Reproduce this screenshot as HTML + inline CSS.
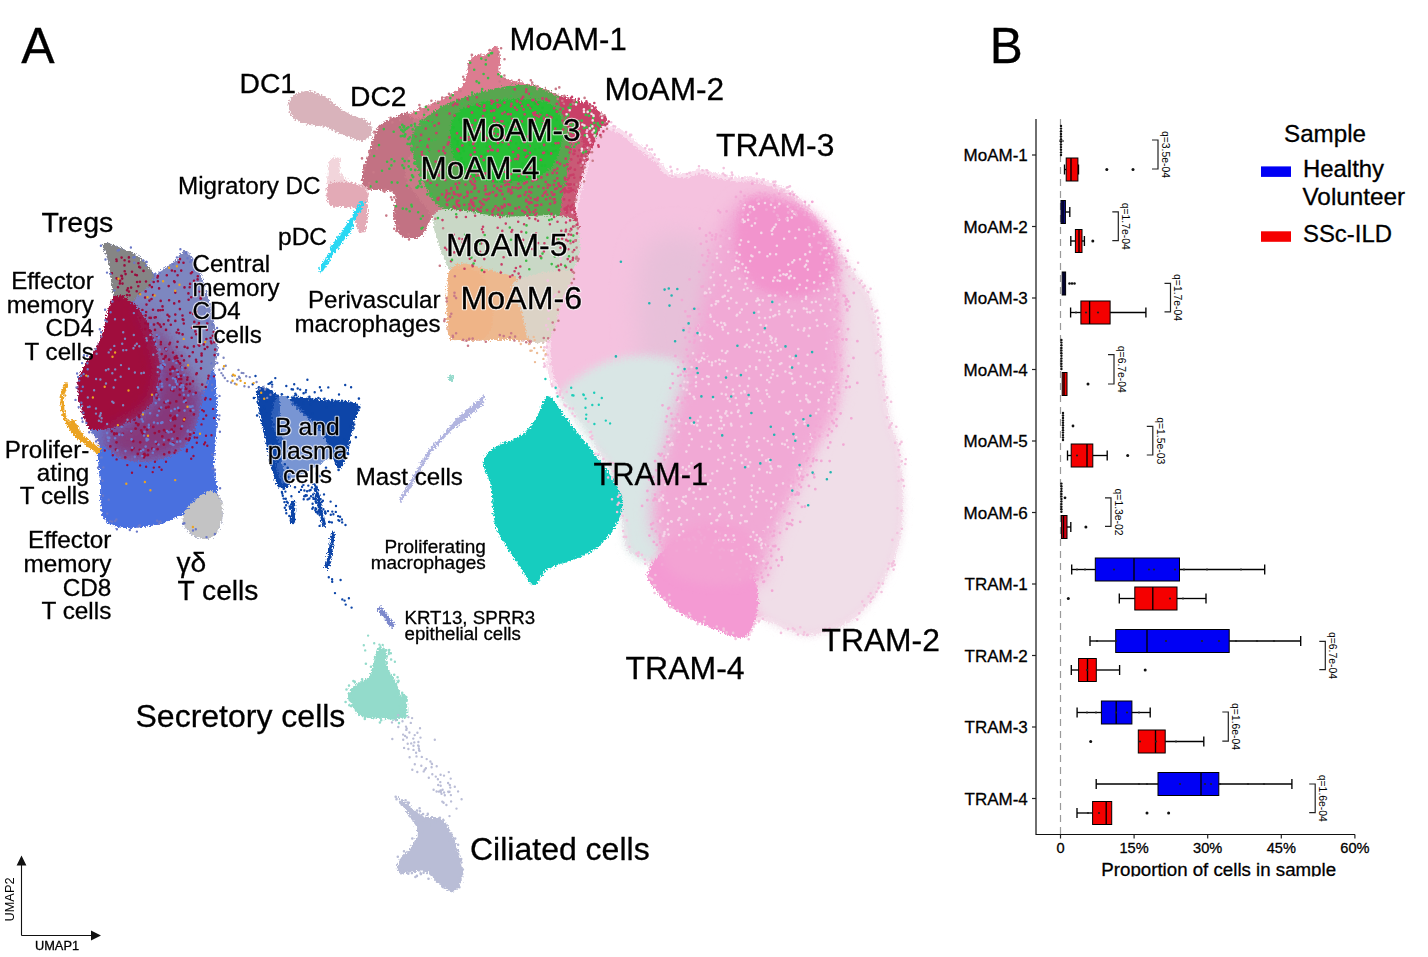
<!DOCTYPE html><html><head><meta charset="utf-8"><style>html,body{margin:0;padding:0;background:#fff;overflow:hidden}svg{display:block}</style></head><body>
<svg width="1428" height="957" viewBox="0 0 1428 957">
<rect width="1428" height="957" fill="#fff"/>
<defs><filter id="soft" x="-10%" y="-10%" width="120%" height="120%"><feGaussianBlur stdDeviation="1.2"/></filter><filter id="b4" x="-30%" y="-30%" width="160%" height="160%"><feGaussianBlur stdDeviation="4"/></filter><filter id="b8" x="-30%" y="-30%" width="160%" height="160%"><feGaussianBlur stdDeviation="8"/></filter><filter id="b12" x="-30%" y="-30%" width="160%" height="160%"><feGaussianBlur stdDeviation="12"/></filter><filter id="soft2" x="-10%" y="-10%" width="120%" height="120%"><feGaussianBlur stdDeviation="3"/></filter><filter id="grain" x="-5%" y="-5%" width="110%" height="110%"><feTurbulence type="fractalNoise" baseFrequency="0.6" numOctaves="1" seed="3" result="n"/><feDisplacementMap in="SourceGraphic" in2="n" scale="7" xChannelSelector="R" yChannelSelector="G"/></filter></defs>
<g filter="url(#grain)">
<path d="M590.0,122.0 C592.3,120.2 596.7,122.7 602.0,124.0 C607.3,125.3 615.8,126.7 622.0,130.0 C628.2,133.3 633.0,139.2 639.0,144.0 C645.0,148.8 652.8,154.3 658.0,159.0 C663.2,163.7 665.2,169.7 670.0,172.0 C674.8,174.3 682.0,173.5 687.0,173.0 C692.0,172.5 695.2,169.0 700.0,169.0 C704.8,169.0 709.8,171.7 716.0,173.0 C722.2,174.3 730.0,176.2 737.0,177.0 C744.0,177.8 748.8,175.5 758.0,178.0 C767.2,180.5 783.0,186.3 792.0,192.0 C801.0,197.7 805.7,204.3 812.0,212.0 C818.3,219.7 823.7,228.7 830.0,238.0 C836.3,247.3 843.5,258.3 850.0,268.0 C856.5,277.7 864.3,285.7 869.0,296.0 C873.7,306.3 875.8,318.5 878.0,330.0 C880.2,341.5 880.0,349.8 882.0,365.0 C884.0,380.2 887.0,406.0 890.0,421.0 C893.0,436.0 898.0,437.7 900.0,455.0 C902.0,472.3 904.3,504.7 902.0,525.0 C899.7,545.3 893.7,561.7 886.0,577.0 C878.3,592.3 868.0,607.3 856.0,617.0 C844.0,626.7 825.3,632.8 814.0,635.0 C802.7,637.2 795.3,632.2 788.0,630.0 C780.7,627.8 775.0,623.3 770.0,622.0 C765.0,620.7 762.2,619.5 758.0,622.0 C753.8,624.5 752.7,636.0 745.0,637.0 C737.3,638.0 723.8,632.7 712.0,628.0 C700.2,623.3 684.0,616.8 674.0,609.0 C664.0,601.2 656.7,588.8 652.0,581.0 C647.3,573.2 650.2,567.3 646.0,562.0 C641.8,556.7 631.0,555.8 627.0,549.0 C623.0,542.2 624.8,534.2 622.0,521.0 C619.2,507.8 614.2,481.8 610.0,470.0 C605.8,458.2 600.3,456.3 597.0,450.0 C593.7,443.7 594.2,438.7 590.0,432.0 C585.8,425.3 577.8,417.0 572.0,410.0 C566.2,403.0 559.2,397.5 555.0,390.0 C550.8,382.5 548.3,376.7 547.0,365.0 C545.7,353.3 546.2,334.2 547.0,320.0 C547.8,305.8 549.5,293.3 552.0,280.0 C554.5,266.7 558.2,253.3 562.0,240.0 C565.8,226.7 571.2,213.3 575.0,200.0 C578.8,186.7 582.8,170.8 585.0,160.0 C587.2,149.2 587.2,141.3 588.0,135.0 C588.8,128.7 587.7,123.8 590.0,122.0Z" fill="#f5c2df" />
<path d="M590.0,122.0 C592.3,120.2 596.7,122.7 602.0,124.0 C607.3,125.3 615.8,126.7 622.0,130.0 C628.2,133.3 633.0,139.2 639.0,144.0 C645.0,148.8 652.8,154.3 658.0,159.0 C663.2,163.7 665.2,169.7 670.0,172.0 C674.8,174.3 682.0,173.5 687.0,173.0 C692.0,172.5 695.2,169.0 700.0,169.0 C704.8,169.0 709.8,171.7 716.0,173.0 C722.2,174.3 730.0,176.2 737.0,177.0 C744.0,177.8 748.8,175.5 758.0,178.0 C767.2,180.5 783.0,186.3 792.0,192.0 C801.0,197.7 805.7,204.3 812.0,212.0 C818.3,219.7 823.7,228.7 830.0,238.0 C836.3,247.3 843.5,258.3 850.0,268.0 C856.5,277.7 864.3,285.7 869.0,296.0 C873.7,306.3 875.8,318.5 878.0,330.0 C880.2,341.5 880.0,349.8 882.0,365.0 C884.0,380.2 887.0,406.0 890.0,421.0 C893.0,436.0 898.0,437.7 900.0,455.0 C902.0,472.3 904.3,504.7 902.0,525.0 C899.7,545.3 893.7,561.7 886.0,577.0 C878.3,592.3 868.0,607.3 856.0,617.0 C844.0,626.7 825.3,632.8 814.0,635.0 C802.7,637.2 795.3,632.2 788.0,630.0 C780.7,627.8 775.0,623.3 770.0,622.0 C765.0,620.7 762.2,619.5 758.0,622.0 C753.8,624.5 752.7,636.0 745.0,637.0 C737.3,638.0 723.8,632.7 712.0,628.0 C700.2,623.3 684.0,616.8 674.0,609.0 C664.0,601.2 656.7,588.8 652.0,581.0 C647.3,573.2 650.2,567.3 646.0,562.0 C641.8,556.7 631.0,555.8 627.0,549.0 C623.0,542.2 624.8,534.2 622.0,521.0 C619.2,507.8 614.2,481.8 610.0,470.0 C605.8,458.2 600.3,456.3 597.0,450.0 C593.7,443.7 594.2,438.7 590.0,432.0 C585.8,425.3 577.8,417.0 572.0,410.0 C566.2,403.0 559.2,397.5 555.0,390.0 C550.8,382.5 548.3,376.7 547.0,365.0 C545.7,353.3 546.2,334.2 547.0,320.0 C547.8,305.8 549.5,293.3 552.0,280.0 C554.5,266.7 558.2,253.3 562.0,240.0 C565.8,226.7 571.2,213.3 575.0,200.0 C578.8,186.7 582.8,170.8 585.0,160.0 C587.2,149.2 587.2,141.3 588.0,135.0 C588.8,128.7 587.7,123.8 590.0,122.0Z" fill="none" stroke="#fff" stroke-opacity="0.45" stroke-width="9"/>
<path d="M812.0,212.0 C811.7,210.0 823.7,228.7 830.0,238.0 C836.3,247.3 843.5,258.3 850.0,268.0 C856.5,277.7 864.3,285.7 869.0,296.0 C873.7,306.3 875.8,318.5 878.0,330.0 C880.2,341.5 880.0,349.8 882.0,365.0 C884.0,380.2 887.0,406.0 890.0,421.0 C893.0,436.0 898.0,437.7 900.0,455.0 C902.0,472.3 904.3,504.7 902.0,525.0 C899.7,545.3 893.7,561.7 886.0,577.0 C878.3,592.3 868.0,607.3 856.0,617.0 C844.0,626.7 825.3,632.8 814.0,635.0 C802.7,637.2 795.3,632.2 788.0,630.0 C780.7,627.8 775.0,625.3 770.0,622.0 C765.0,618.7 760.5,616.2 758.0,610.0 C755.5,603.8 754.0,596.7 755.0,585.0 C756.0,573.3 758.2,555.0 764.0,540.0 C769.8,525.0 781.5,510.0 790.0,495.0 C798.5,480.0 807.0,465.8 815.0,450.0 C823.0,434.2 833.8,425.0 838.0,400.0 C842.2,375.0 841.0,325.0 840.0,300.0 C839.0,275.0 836.7,264.7 832.0,250.0 C827.3,235.3 812.3,214.0 812.0,212.0Z" fill="#f0dee8" filter="url(#b4)"/>
<path d="M645.0,250.0 C655.0,230.0 685.8,233.3 700.0,240.0 C714.2,246.7 727.5,266.7 730.0,290.0 C732.5,313.3 720.0,353.3 715.0,380.0 C710.0,406.7 709.2,440.0 700.0,450.0 C690.8,460.0 670.0,455.0 660.0,440.0 C650.0,425.0 642.5,391.7 640.0,360.0 C637.5,328.3 635.0,270.0 645.0,250.0Z" fill="#e7c0d9" filter="url(#b12)"/>
<path d="M560.0,395.0 C561.3,388.5 571.3,381.8 580.0,376.0 C588.7,370.2 600.0,363.3 612.0,360.0 C624.0,356.7 639.3,354.7 652.0,356.0 C664.7,357.3 682.7,359.0 688.0,368.0 C693.3,377.0 687.0,394.7 684.0,410.0 C681.0,425.3 674.3,443.3 670.0,460.0 C665.7,476.7 659.3,495.3 658.0,510.0 C656.7,524.7 664.0,539.3 662.0,548.0 C660.0,556.7 651.8,561.8 646.0,562.0 C640.2,562.2 631.0,555.8 627.0,549.0 C623.0,542.2 624.8,534.2 622.0,521.0 C619.2,507.8 614.2,481.8 610.0,470.0 C605.8,458.2 603.3,459.2 597.0,450.0 C590.7,440.8 578.2,424.2 572.0,415.0 C565.8,405.8 558.7,401.5 560.0,395.0Z" fill="#d9e6e5" filter="url(#b4)"/>
<path d="M746.0,199.0 C757.7,194.8 777.3,199.8 790.0,205.0 C802.7,210.2 814.0,219.2 822.0,230.0 C830.0,240.8 835.0,253.3 838.0,270.0 C841.0,286.7 840.3,308.3 840.0,330.0 C839.7,351.7 840.7,379.8 836.0,400.0 C831.3,420.2 819.7,434.3 812.0,451.0 C804.3,467.7 796.7,484.3 790.0,500.0 C783.3,515.7 777.0,530.8 772.0,545.0 C767.0,559.2 765.3,582.5 760.0,585.0 C754.7,587.5 749.2,568.8 740.0,560.0 C730.8,551.2 717.7,534.5 705.0,532.0 C692.3,529.5 672.8,547.8 664.0,545.0 C655.2,542.2 652.7,527.5 652.0,515.0 C651.3,502.5 656.7,485.8 660.0,470.0 C663.3,454.2 667.0,438.3 672.0,420.0 C677.0,401.7 685.0,380.0 690.0,360.0 C695.0,340.0 697.0,321.7 702.0,300.0 C707.0,278.3 712.7,246.8 720.0,230.0 C727.3,213.2 734.3,203.2 746.0,199.0Z" fill="#f1a9d5" filter="url(#b8)"/>
<path d="M748.0,202.0 C756.7,194.2 779.7,203.0 792.0,208.0 C804.3,213.0 815.2,221.7 822.0,232.0 C828.8,242.3 835.8,260.3 833.0,270.0 C830.2,279.7 816.3,287.5 805.0,290.0 C793.7,292.5 775.8,290.8 765.0,285.0 C754.2,279.2 742.8,268.8 740.0,255.0 C737.2,241.2 739.3,209.8 748.0,202.0Z" fill="#f3a0d2" filter="url(#b4)"/>
<path d="M648.0,572.0 C650.0,566.2 656.2,557.0 664.0,550.0 C671.8,543.0 683.2,533.0 695.0,530.0 C706.8,527.0 725.5,525.3 735.0,532.0 C744.5,538.7 748.2,557.8 752.0,570.0 C755.8,582.2 759.2,593.8 758.0,605.0 C756.8,616.2 752.7,633.2 745.0,637.0 C737.3,640.8 723.8,632.7 712.0,628.0 C700.2,623.3 684.0,616.2 674.0,609.0 C664.0,601.8 656.3,591.2 652.0,585.0 C647.7,578.8 646.0,577.8 648.0,572.0Z" fill="#f49ad3" />
<path d="M662.0,545.0 C666.2,536.2 685.7,524.2 700.0,522.0 C714.3,519.8 738.8,523.2 748.0,532.0 C757.2,540.8 759.7,566.2 755.0,575.0 C750.3,583.8 733.3,585.0 720.0,585.0 C706.7,585.0 684.7,581.7 675.0,575.0 C665.3,568.3 657.8,553.8 662.0,545.0Z" fill="#f3a2d3" filter="url(#b4)"/>
<path d="M748.0,200.0 C757.8,191.7 782.0,199.7 795.0,205.0 C808.0,210.3 819.2,220.8 826.0,232.0 C832.8,243.2 839.0,261.5 836.0,272.0 C833.0,282.5 820.3,292.0 808.0,295.0 C795.7,298.0 774.0,296.7 762.0,290.0 C750.0,283.3 738.3,270.0 736.0,255.0 C733.7,240.0 738.2,208.3 748.0,200.0Z" fill="#f294cd" filter="url(#b4)"/>
<path d="M548.0,396.0 C552.8,395.2 559.2,409.0 564.0,415.0 C568.8,421.0 571.5,425.0 577.0,432.0 C582.5,439.0 591.5,449.8 597.0,457.0 C602.5,464.2 605.8,467.8 610.0,475.0 C614.2,482.2 620.8,492.0 622.0,500.0 C623.2,508.0 620.8,515.3 617.0,523.0 C613.2,530.7 605.8,540.0 599.0,546.0 C592.2,552.0 584.5,555.2 576.0,559.0 C567.5,562.8 555.0,564.7 548.0,569.0 C541.0,573.3 538.5,585.0 534.0,585.0 C529.5,585.0 527.0,577.8 521.0,569.0 C515.0,560.2 502.7,542.0 498.0,532.0 C493.3,522.0 494.2,516.7 493.0,509.0 C491.8,501.3 492.5,493.0 491.0,486.0 C489.5,479.0 484.8,472.2 484.0,467.0 C483.2,461.8 483.5,458.7 486.0,455.0 C488.5,451.3 493.3,448.2 499.0,445.0 C504.7,441.8 514.0,440.2 520.0,436.0 C526.0,431.8 530.3,426.7 535.0,420.0 C539.7,413.3 543.2,396.8 548.0,396.0Z" fill="#12cdbf" />
<path d="M382.0,123.7 C385.3,121.8 391.8,118.0 397.6,116.0 C403.4,114.0 409.9,114.7 417.0,112.0 C424.1,109.3 432.3,104.5 440.0,100.0 C447.7,95.5 457.8,92.0 463.0,85.0 C468.2,78.0 467.1,63.2 471.0,58.0 C474.9,52.8 482.3,56.0 486.5,54.0 C490.7,52.0 493.8,45.3 496.0,46.0 C498.2,46.7 499.0,52.8 500.0,58.0 C501.0,63.2 496.5,72.5 502.0,77.0 C507.5,81.5 522.7,81.7 533.0,85.0 C543.3,88.3 555.0,93.4 564.0,96.6 C573.0,99.8 580.7,101.1 587.0,104.0 C593.3,106.9 598.7,111.0 602.0,114.0 C605.3,117.0 607.6,119.2 607.0,122.0 C606.4,124.8 601.9,125.6 598.6,131.0 C595.3,136.4 589.6,147.4 587.0,154.6 C584.4,161.8 585.0,165.6 583.0,174.0 C581.0,182.4 575.7,195.3 575.0,205.0 C574.3,214.7 579.6,221.1 579.0,232.0 C578.4,242.9 574.7,259.3 571.5,270.6 C568.3,281.9 563.9,288.4 560.0,300.0 C556.1,311.6 554.7,333.3 548.0,340.0 C541.3,346.7 529.3,340.0 520.0,340.0 C510.7,340.0 501.5,340.0 492.0,340.0 C482.5,340.0 470.3,341.3 463.0,340.0 C455.7,338.7 449.9,344.0 448.0,332.4 C446.1,320.8 451.7,281.6 451.7,270.6 C451.7,259.7 450.6,275.7 448.0,266.7 C445.4,257.7 440.5,221.6 436.0,216.5 C431.5,211.4 426.8,232.8 421.0,236.0 C415.2,239.2 405.9,239.1 401.4,235.8 C396.8,232.6 395.0,223.6 393.7,216.5 C392.4,209.4 398.8,198.2 393.7,193.0 C388.6,187.8 366.7,193.2 362.8,185.5 C358.9,177.8 368.0,156.7 370.5,147.0 C373.0,137.3 376.1,131.5 378.0,127.6 C379.9,123.7 378.7,125.6 382.0,123.7Z" fill="#c97a88" />
<path d="M382.0,123.7 C385.3,121.8 392.9,117.6 397.6,116.0 C402.3,114.4 407.1,110.0 410.0,114.0 C412.9,118.0 415.8,129.8 415.0,140.0 C414.2,150.2 404.2,165.0 405.0,175.0 C405.8,185.0 415.8,193.3 420.0,200.0 C424.2,206.7 429.8,209.0 430.0,215.0 C430.2,221.0 425.8,232.5 421.0,236.0 C416.2,239.5 405.9,239.1 401.4,235.8 C396.8,232.6 395.0,223.6 393.7,216.5 C392.4,209.4 398.8,198.2 393.7,193.0 C388.6,187.8 366.7,193.2 362.8,185.5 C358.9,177.8 368.0,156.7 370.5,147.0 C373.0,137.3 376.1,131.5 378.0,127.6 C379.9,123.7 378.7,125.6 382.0,123.7Z" fill="#c27283" />
<path d="M440.0,100.0 C448.8,95.2 457.8,92.0 463.0,85.0 C468.2,78.0 467.1,63.2 471.0,58.0 C474.9,52.8 482.3,56.0 486.5,54.0 C490.7,52.0 493.8,45.3 496.0,46.0 C498.2,46.7 499.0,52.8 500.0,58.0 C501.0,63.2 496.5,72.5 502.0,77.0 C507.5,81.5 525.8,82.5 533.0,85.0 C540.2,87.5 550.5,89.5 545.0,92.0 C539.5,94.5 514.2,97.0 500.0,100.0 C485.8,103.0 473.3,107.0 460.0,110.0 C446.7,113.0 428.3,117.3 420.0,118.0 C411.7,118.7 406.7,117.0 410.0,114.0 C413.3,111.0 431.2,104.8 440.0,100.0Z" fill="#dc7c90" />
<path d="M418.0,125.0 C425.2,116.8 438.3,107.2 455.5,100.5 C472.7,93.8 502.9,85.0 521.0,85.0 C539.1,85.0 554.2,93.8 564.0,100.5 C573.8,107.2 577.5,116.0 580.0,125.0 C582.5,134.0 580.3,143.8 579.0,154.6 C577.7,165.4 574.5,179.7 572.0,190.0 C569.5,200.3 575.7,212.1 564.0,216.5 C552.3,220.9 522.0,217.8 502.0,216.5 C482.0,215.2 456.8,213.9 444.0,208.7 C431.2,203.4 430.3,194.8 425.0,185.0 C419.7,175.2 413.2,160.0 412.0,150.0 C410.8,140.0 410.8,133.2 418.0,125.0Z" fill="#58a64f" />
<path d="M460.0,110.0 C468.3,104.2 485.8,101.3 500.0,100.0 C514.2,98.7 534.7,98.3 545.0,102.0 C555.3,105.7 560.2,112.3 562.0,122.0 C563.8,131.7 561.3,150.3 556.0,160.0 C550.7,169.7 542.7,176.7 530.0,180.0 C517.3,183.3 492.0,182.5 480.0,180.0 C468.0,177.5 463.0,172.5 458.0,165.0 C453.0,157.5 449.7,144.2 450.0,135.0 C450.3,125.8 451.7,115.8 460.0,110.0Z" fill="#26bf34" />
<path d="M560.0,97.0 C563.7,94.3 580.0,101.2 587.0,104.0 C594.0,106.8 598.7,111.0 602.0,114.0 C605.3,117.0 607.6,119.2 607.0,122.0 C606.4,124.8 601.9,125.6 598.6,131.0 C595.3,136.4 590.9,151.4 587.0,154.6 C583.1,157.8 578.7,155.8 575.0,150.0 C571.3,144.2 567.5,128.8 565.0,120.0 C562.5,111.2 556.3,99.7 560.0,97.0Z" fill="#c93f68" />
<path d="M575.0,130.0 C578.2,127.4 585.7,147.3 587.0,154.6 C588.3,161.9 585.0,165.6 583.0,174.0 C581.0,182.4 575.7,195.3 575.0,205.0 C574.3,214.7 579.6,221.1 579.0,232.0 C578.4,242.9 574.7,264.3 571.5,270.6 C568.3,276.9 561.9,279.3 560.0,270.0 C558.1,260.7 558.7,231.7 560.0,215.0 C561.3,198.3 565.5,184.2 568.0,170.0 C570.5,155.8 571.8,132.6 575.0,130.0Z" fill="#c95a76" />
<path d="M436.0,212.0 C445.0,203.6 480.7,215.8 502.0,216.5 C523.3,217.2 551.2,213.9 564.0,216.5 C576.8,219.1 577.8,223.0 579.0,232.0 C580.2,241.0 581.3,262.9 571.5,270.6 C561.7,278.3 536.9,277.8 520.0,278.0 C503.1,278.2 482.0,273.9 470.0,272.0 C458.0,270.1 453.7,276.7 448.0,266.7 C442.3,256.7 427.0,220.4 436.0,212.0Z" fill="#c9d8c6" />
<path d="M451.7,268.0 C458.7,257.6 476.9,267.2 490.0,270.0 C503.1,272.8 520.3,277.5 530.0,285.0 C539.7,292.5 545.0,305.8 548.0,315.0 C551.0,324.2 552.7,335.8 548.0,340.0 C543.3,344.2 529.3,340.0 520.0,340.0 C510.7,340.0 501.5,340.0 492.0,340.0 C482.5,340.0 470.3,341.3 463.0,340.0 C455.7,338.7 449.9,344.4 448.0,332.4 C446.1,320.4 444.7,278.4 451.7,268.0Z" fill="#edb88e" />
<path d="M451.0,270.0 C456.0,267.0 471.2,267.0 478.0,272.0 C484.8,277.0 490.3,289.5 492.0,300.0 C493.7,310.5 493.2,328.3 488.0,335.0 C482.8,341.7 467.5,340.5 461.0,340.0 C454.5,339.5 451.2,340.3 449.0,332.0 C446.8,323.7 447.7,300.3 448.0,290.0 C448.3,279.7 446.0,273.0 451.0,270.0Z" fill="#efb487" />
<path d="M515.0,282.0 C523.2,275.1 563.7,267.6 571.5,270.6 C579.3,273.6 565.6,288.8 562.0,300.0 C558.4,311.2 555.3,331.3 550.0,338.0 C544.7,344.7 534.7,344.3 530.0,340.0 C525.3,335.7 524.5,321.7 522.0,312.0 C519.5,302.3 506.8,288.9 515.0,282.0Z" fill="#dcd3c6" />
<path d="M290.0,99.0 C292.7,95.0 301.2,91.3 307.0,91.0 C312.8,90.7 318.5,93.5 325.0,97.0 C331.5,100.5 339.0,108.0 346.0,112.0 C353.0,116.0 362.7,117.5 367.0,121.0 C371.3,124.5 372.8,129.7 372.0,133.0 C371.2,136.3 366.3,140.5 362.0,141.0 C357.7,141.5 352.2,138.3 346.0,136.0 C339.8,133.7 331.8,129.0 325.0,127.0 C318.2,125.0 310.7,126.0 305.0,124.0 C299.3,122.0 293.5,119.2 291.0,115.0 C288.5,110.8 287.3,103.0 290.0,99.0Z" fill="#d9b3bb" />
<path d="M330.0,160.0 C332.0,158.0 338.3,156.0 340.0,158.0 C341.7,160.0 338.3,168.0 340.0,172.0 C341.7,176.0 345.8,179.7 350.0,182.0 C354.2,184.3 361.8,183.7 365.0,186.0 C368.2,188.3 369.5,192.7 369.0,196.0 C368.5,199.3 366.0,204.2 362.0,206.0 C358.0,207.8 350.5,207.3 345.0,207.0 C339.5,206.7 332.0,206.8 329.0,204.0 C326.0,201.2 327.2,195.7 327.0,190.0 C326.8,184.3 327.5,175.0 328.0,170.0 C328.5,165.0 328.0,162.0 330.0,160.0Z" fill="#ecc3cc" opacity="0.7"/>
<path d="M328.0,185.0 C330.7,181.3 339.3,181.8 345.0,182.0 C350.7,182.2 358.2,183.7 362.0,186.0 C365.8,188.3 368.0,192.7 368.0,196.0 C368.0,199.3 365.8,204.2 362.0,206.0 C358.2,207.8 350.5,207.3 345.0,207.0 C339.5,206.7 331.8,207.7 329.0,204.0 C326.2,200.3 325.3,188.7 328.0,185.0Z" fill="#e3aab6" />
<path d="M358.0,200.0 C359.8,198.0 364.3,195.5 366.0,198.0 C367.7,200.5 368.3,209.3 368.0,215.0 C367.7,220.7 365.8,229.8 364.0,232.0 C362.2,234.2 358.5,231.7 357.0,228.0 C355.5,224.3 354.8,214.7 355.0,210.0 C355.2,205.3 356.2,202.0 358.0,200.0Z" fill="#e3aab6" />
<path d="M321,270 L340,240 L355,215 L362,203" stroke="#2ad8f3" stroke-width="4.5" stroke-linecap="round" fill="none"/>
<path d="M334,248 L350,226" stroke="#2ad8f3" stroke-width="7" stroke-linecap="round" fill="none"/>
<path d="M103.5,243.4 C106.0,241.6 117.1,246.7 123.0,249.0 C128.9,251.3 134.2,253.3 139.0,257.0 C143.8,260.7 148.8,268.3 152.0,271.0 C155.2,273.7 155.2,274.0 158.0,273.0 C160.8,272.0 165.8,267.3 169.0,265.0 C172.2,262.7 174.0,261.2 177.0,259.0 C180.0,256.8 182.5,247.9 187.0,252.0 C191.5,256.1 199.0,268.8 204.0,283.5 C209.0,298.2 215.3,325.5 217.0,340.0 C218.7,354.5 214.0,358.2 214.0,370.5 C214.0,382.8 217.0,398.4 217.0,414.0 C217.0,429.6 214.0,451.2 214.0,464.0 C214.0,476.8 215.8,485.0 217.0,491.0 C218.2,497.0 220.2,495.2 221.0,500.0 C221.8,504.8 223.3,513.8 222.0,520.0 C220.7,526.2 217.3,534.2 213.0,537.0 C208.7,539.8 200.8,538.8 196.0,537.0 C191.2,535.2 186.0,529.8 184.0,526.0 C182.0,522.2 187.8,514.3 183.8,514.0 C179.8,513.7 170.0,521.7 160.0,524.0 C150.0,526.3 133.0,528.8 123.6,527.7 C114.2,526.6 107.4,525.4 103.5,517.6 C99.6,509.8 100.6,492.8 100.0,481.0 C99.4,469.2 102.2,456.5 100.0,447.0 C97.8,437.5 90.4,432.3 86.8,424.0 C83.2,415.7 79.5,405.3 78.4,397.0 C77.3,388.7 76.4,383.5 80.0,374.0 C83.6,364.5 94.4,352.8 100.0,340.0 C105.6,327.2 112.2,310.3 113.5,297.0 C114.8,283.7 109.7,268.9 108.0,260.0 C106.3,251.1 101.0,245.2 103.5,243.4Z" fill="#6876cc" />
<path d="M103.5,243.4 C106.0,241.6 117.1,246.7 123.0,249.0 C128.9,251.3 134.2,253.3 139.0,257.0 C143.8,260.7 150.2,266.3 152.0,271.0 C153.8,275.7 152.8,280.2 150.0,285.0 C147.2,289.8 140.8,296.7 135.0,300.0 C129.2,303.3 118.6,305.5 115.0,305.0 C111.4,304.5 114.7,304.5 113.5,297.0 C112.3,289.5 109.7,268.9 108.0,260.0 C106.3,251.1 101.0,245.2 103.5,243.4Z" fill="#858585" />
<path d="M158.0,273.0 C161.2,269.7 165.8,267.3 169.0,265.0 C172.2,262.7 174.0,261.2 177.0,259.0 C180.0,256.8 182.5,247.9 187.0,252.0 C191.5,256.1 199.0,268.8 204.0,283.5 C209.0,298.2 215.3,325.5 217.0,340.0 C218.7,354.5 216.0,362.2 214.0,370.5 C212.0,378.8 210.7,387.6 205.0,390.0 C199.3,392.4 187.5,390.0 180.0,385.0 C172.5,380.0 166.7,370.8 160.0,360.0 C153.3,349.2 144.2,330.0 140.0,320.0 C135.8,310.0 133.3,305.8 135.0,300.0 C136.7,294.2 146.2,289.5 150.0,285.0 C153.8,280.5 154.8,276.3 158.0,273.0Z" fill="#7d87c0" />
<path d="M113.5,297.0 C119.3,291.2 128.9,299.5 135.0,305.0 C141.1,310.5 145.8,319.2 150.0,330.0 C154.2,340.8 160.0,357.5 160.0,370.0 C160.0,382.5 156.3,395.8 150.0,405.0 C143.7,414.2 131.0,420.8 122.0,425.0 C113.0,429.2 101.9,430.2 96.0,430.0 C90.1,429.8 89.7,429.5 86.8,424.0 C83.9,418.5 79.5,405.3 78.4,397.0 C77.3,388.7 76.4,383.5 80.0,374.0 C83.6,364.5 94.4,352.8 100.0,340.0 C105.6,327.2 107.7,302.8 113.5,297.0Z" fill="#a00c3c" />
<path d="M135.0,302.0 C136.7,302.0 151.7,318.7 160.0,330.0 C168.3,341.3 178.3,358.3 185.0,370.0 C191.7,381.7 199.2,388.3 200.0,400.0 C200.8,411.7 196.7,430.3 190.0,440.0 C183.3,449.7 170.8,455.0 160.0,458.0 C149.2,461.0 133.3,459.3 125.0,458.0 C116.7,456.7 113.5,454.0 110.0,450.0 C106.5,446.0 102.0,438.2 104.0,434.0 C106.0,429.8 114.3,429.8 122.0,425.0 C129.7,420.2 143.7,414.2 150.0,405.0 C156.3,395.8 160.0,382.5 160.0,370.0 C160.0,357.5 154.2,341.3 150.0,330.0 C145.8,318.7 133.3,302.0 135.0,302.0Z" fill="#86387a" filter="url(#b8)"/>
<path d="M100.0,447.0 C104.2,443.5 115.0,457.8 125.0,460.0 C135.0,462.2 149.2,463.3 160.0,460.0 C170.8,456.7 182.5,451.7 190.0,440.0 C197.5,428.3 201.0,401.6 205.0,390.0 C209.0,378.4 212.0,366.5 214.0,370.5 C216.0,374.5 217.0,398.4 217.0,414.0 C217.0,429.6 214.0,451.2 214.0,464.0 C214.0,476.8 218.5,484.2 217.0,491.0 C215.5,497.8 210.5,501.2 205.0,505.0 C199.5,508.8 191.3,510.8 183.8,514.0 C176.3,517.2 170.0,521.7 160.0,524.0 C150.0,526.3 133.0,528.8 123.6,527.7 C114.2,526.6 107.4,525.4 103.5,517.6 C99.6,509.8 100.6,492.8 100.0,481.0 C99.4,469.2 95.8,450.5 100.0,447.0Z" fill="#4a6fdf" />
<path d="M210.5,491.0 C214.8,491.0 219.1,495.2 221.0,500.0 C222.9,504.8 223.3,513.8 222.0,520.0 C220.7,526.2 217.3,534.2 213.0,537.0 C208.7,539.8 200.8,538.8 196.0,537.0 C191.2,535.2 186.0,529.8 184.0,526.0 C182.0,522.2 182.0,518.3 183.8,514.0 C185.6,509.7 190.6,503.8 195.0,500.0 C199.4,496.2 206.2,491.0 210.5,491.0Z" fill="#c3c3c4" />
<path d="M66,384 C57,405 62,432 98,450" stroke="#eba322" stroke-width="3.5" fill="none" stroke-linecap="round"/>
<path d="M72,422 C78,436 86,444 98,450" stroke="#eba322" stroke-width="6" fill="none" stroke-linecap="round"/>
<path d="M290.0,399.0 C290.7,393.7 313.7,399.2 325.0,400.0 C336.3,400.8 353.2,400.2 358.0,404.0 C362.8,407.8 357.0,412.2 354.0,423.0 C351.0,433.8 345.5,467.5 340.0,469.0 C334.5,470.5 329.3,443.7 321.0,432.0 C312.7,420.3 289.3,404.3 290.0,399.0Z" fill="#0c45a8" />
<path d="M258.0,388.0 C261.0,384.7 274.3,390.2 278.0,396.0 C281.7,401.8 279.0,415.2 280.0,423.0 C281.0,430.8 283.7,436.3 284.0,443.0 C284.3,449.7 281.0,456.2 282.0,463.0 C283.0,469.8 290.5,480.0 290.0,484.0 C289.5,488.0 282.0,489.3 279.0,487.0 C276.0,484.7 274.2,477.3 272.0,470.0 C269.8,462.7 268.0,452.0 266.0,443.0 C264.0,434.0 261.3,425.2 260.0,416.0 C258.7,406.8 255.0,391.3 258.0,388.0Z" fill="#0c45a8" />
<path d="M276.0,398.0 C279.0,394.0 282.5,393.3 290.0,399.0 C297.5,404.7 314.3,422.7 321.0,432.0 C327.7,441.3 331.8,448.7 330.0,455.0 C328.2,461.3 316.7,465.8 310.0,470.0 C303.3,474.2 294.5,477.7 290.0,480.0 C285.5,482.3 285.3,486.8 283.0,484.0 C280.7,481.2 276.7,469.8 276.0,463.0 C275.3,456.2 279.7,449.7 279.0,443.0 C278.3,436.3 272.5,430.5 272.0,423.0 C271.5,415.5 273.0,402.0 276.0,398.0Z" fill="#3f6ac0" opacity="0.7"/>
<path d="M293,502 L293,522" stroke="#0c45a8" stroke-width="4.5" stroke-linecap="round"/>
<path d="M315,485 L324,525" stroke="#0c45a8" stroke-width="4" stroke-linecap="round"/>
<path d="M333,533 C331,548 330,558 327,567" stroke="#0c45a8" stroke-width="4" fill="none" stroke-linecap="round"/>
<path d="M401,500 L430,451 L455,424 L484,397" stroke="#b2b5e0" stroke-width="3.5" stroke-linecap="round" fill="none"/>
<path d="M455,424 L480,403" stroke="#b2b5e0" stroke-width="6.5" stroke-linecap="round" fill="none"/>
<circle cx="451" cy="378" r="3" fill="#93d9cb"/>
<path d="M380,609 L392,625" stroke="#7b88cc" stroke-width="5" stroke-linecap="round" fill="none"/>
<path d="M348.0,694.0 C348.8,690.8 352.7,686.7 356.0,684.0 C359.3,681.3 365.0,681.7 368.0,678.0 C371.0,674.3 372.3,667.0 374.0,662.0 C375.7,657.0 376.2,650.0 378.0,648.0 C379.8,646.0 383.3,646.7 385.0,650.0 C386.7,653.3 386.2,662.7 388.0,668.0 C389.8,673.3 393.8,677.2 396.0,682.0 C398.2,686.8 399.7,692.0 401.0,697.0 C402.3,702.0 404.5,708.3 404.0,712.0 C403.5,715.7 401.5,717.8 398.0,719.0 C394.5,720.2 389.2,719.5 383.0,719.0 C376.8,718.5 366.3,718.7 361.0,716.0 C355.7,713.3 353.2,706.7 351.0,703.0 C348.8,699.3 347.2,697.2 348.0,694.0Z" fill="#93dbcb" />
<path d="M400.0,697.0 C400.8,693.3 404.8,691.8 406.0,695.0 C407.2,698.2 407.8,712.3 407.0,716.0 C406.2,719.7 402.2,720.2 401.0,717.0 C399.8,713.8 399.2,700.7 400.0,697.0Z" fill="#93dbcb" />
<path d="M397.0,797.0 C396.7,794.7 405.7,802.8 410.0,806.0 C414.3,809.2 418.0,814.0 423.0,816.0 C428.0,818.0 435.5,815.7 440.0,818.0 C444.5,820.3 447.0,824.7 450.0,830.0 C453.0,835.3 455.8,842.8 458.0,850.0 C460.2,857.2 463.5,866.2 463.0,873.0 C462.5,879.8 458.8,889.0 455.0,891.0 C451.2,893.0 445.0,888.2 440.0,885.0 C435.0,881.8 431.7,874.0 425.0,872.0 C418.3,870.0 404.5,874.7 400.0,873.0 C395.5,871.3 396.3,866.2 398.0,862.0 C399.7,857.8 406.7,853.0 410.0,848.0 C413.3,843.0 417.7,836.7 418.0,832.0 C418.3,827.3 415.5,825.8 412.0,820.0 C408.5,814.2 397.3,799.3 397.0,797.0Z" fill="#b9bdd6" />
</g>
<path d="M774.4,227.0h0 M752.7,340.2h0 M731.8,518.2h0 M760.5,352.1h0 M813.4,310.8h0 M710.0,514.0h0 M686.0,423.5h0 M772.1,342.7h0 M755.0,223.2h0 M779.9,364.1h0 M711.1,425.0h0 M737.2,314.7h0 M801.3,468.8h0 M697.9,420.7h0 M750.7,536.8h0 M789.1,310.1h0 M730.6,491.3h0 M795.7,420.2h0 M816.6,320.1h0 M782.7,428.4h0 M761.0,375.1h0 M741.1,455.4h0 M663.4,469.8h0 M806.5,308.9h0 M724.5,457.1h0 M663.1,495.5h0 M725.5,535.4h0 M755.3,540.0h0 M704.3,359.3h0 M719.4,540.3h0 M832.1,257.3h0 M695.9,386.2h0 M762.8,300.4h0 M721.4,417.6h0 M748.9,437.4h0 M779.1,219.8h0 M725.8,353.0h0 M671.5,443.8h0 M767.4,256.3h0 M699.4,333.1h0 M720.5,246.4h0 M739.6,385.8h0 M716.4,301.2h0 M807.8,261.3h0 M751.3,255.6h0 M754.1,209.4h0 M701.1,340.5h0 M683.4,497.0h0 M752.1,499.7h0 M714.0,285.1h0 M694.6,398.8h0 M700.7,466.3h0 M831.8,371.6h0 M831.5,339.7h0 M769.3,546.5h0 M810.0,384.1h0 M774.8,507.7h0 M667.9,454.0h0 M793.0,383.5h0 M685.6,503.6h0 M714.5,508.1h0 M834.7,351.8h0 M788.3,264.6h0 M679.5,518.0h0 M717.9,410.8h0 M751.0,559.4h0 M733.6,535.5h0 M807.3,280.5h0 M697.2,425.4h0 M700.8,360.7h0 M718.5,375.9h0 M761.7,548.1h0 M746.3,404.3h0 M750.4,206.2h0 M734.7,269.7h0 M684.4,381.8h0 M788.3,413.8h0 M713.3,399.1h0 M756.4,501.7h0 M797.2,395.0h0 M757.6,492.4h0 M823.5,370.1h0 M767.2,394.1h0 M748.3,466.4h0 M737.0,404.8h0 M829.1,299.2h0 M757.2,563.1h0 M809.9,251.9h0 M665.7,457.4h0 M681.0,475.4h0 M776.1,254.2h0 M726.9,387.1h0 M748.9,329.9h0 M787.8,206.5h0 M756.2,369.0h0 M769.3,396.7h0 M659.4,499.7h0 M731.4,550.8h0 M806.0,298.8h0 M759.3,469.4h0 M781.4,363.2h0 M771.3,508.4h0 M667.7,529.5h0 M664.5,532.0h0 M737.3,329.9h0 M756.0,556.7h0 M751.1,291.0h0 M710.7,316.7h0 M794.8,310.9h0 M746.0,267.7h0 M789.8,411.7h0 M687.6,382.3h0 M806.0,365.8h0 M745.1,521.2h0 M725.9,394.6h0 M716.4,520.3h0 M784.9,444.5h0 M728.1,333.2h0 M665.3,485.0h0 M667.9,523.7h0 M705.0,292.5h0 M707.1,376.3h0 M710.2,336.6h0 M741.2,393.1h0 M689.8,393.8h0 M709.2,288.9h0 M762.1,403.3h0 M793.1,452.8h0 M725.2,324.9h0 M788.1,447.3h0 M660.2,521.4h0 M678.2,401.2h0 M746.8,521.3h0 M761.8,543.6h0 M780.4,466.6h0 M671.7,521.6h0 M757.0,441.3h0 M769.7,461.7h0 M746.6,405.6h0 M775.9,224.5h0 M790.5,296.3h0 M789.1,278.2h0 M744.9,346.7h0 M742.1,462.9h0 M796.2,437.2h0 M772.8,228.9h0 M791.7,316.5h0 M758.7,203.8h0 M778.3,466.2h0 M779.0,311.3h0 M749.1,378.4h0 M739.7,244.7h0 M820.0,275.9h0 M736.5,302.7h0 M691.6,423.4h0 M678.6,401.3h0 M806.2,395.4h0 M743.4,208.6h0 M736.7,315.6h0 M711.4,523.3h0 M809.8,245.3h0 M821.5,310.9h0 M722.0,350.7h0 M719.8,364.2h0 M671.1,521.2h0 M748.1,272.3h0 M828.9,411.0h0 M787.3,218.1h0 M789.7,373.0h0 M793.5,447.8h0 M826.2,248.1h0 M740.8,331.7h0 M708.0,484.3h0 M835.5,299.4h0 M775.3,315.1h0 M756.8,351.2h0 M745.5,283.9h0 M736.6,252.9h0 M759.1,541.5h0 M792.9,358.3h0 M729.8,401.3h0 M722.9,329.5h0 M746.6,442.0h0 M814.2,282.4h0 M727.2,371.1h0 M820.4,381.7h0 M834.8,294.9h0 M750.2,462.3h0 M773.7,494.2h0 M738.0,411.9h0 M659.4,501.0h0 M773.4,316.3h0 M771.6,468.7h0 M750.6,424.0h0 M725.0,285.3h0 M765.0,203.0h0 M708.7,376.8h0 M818.1,382.5h0 M745.7,459.3h0 M731.0,298.3h0 M715.6,361.3h0 M780.3,275.5h0 M746.9,278.2h0 M834.3,319.3h0 M806.2,288.1h0 M693.6,492.5h0 M745.2,271.3h0 M694.0,360.0h0 M827.1,326.1h0 M792.3,211.3h0 M776.9,345.1h0 M722.3,327.0h0 M704.6,334.7h0 M833.3,279.1h0 M719.0,516.1h0 M806.5,365.9h0 M729.2,512.4h0 M796.1,214.7h0 M825.0,298.2h0 M715.7,304.1h0 M701.3,475.6h0 M711.5,305.4h0 M696.0,382.4h0 M724.7,295.9h0 M732.8,389.5h0 M826.5,269.6h0 M766.2,325.5h0 M712.1,338.7h0 M799.1,229.5h0 M689.1,489.6h0 M785.4,371.5h0 M696.0,359.9h0 M768.6,459.2h0 M776.9,245.8h0 M810.1,312.4h0 M758.6,343.0h0 M790.8,275.9h0 M760.7,325.0h0 M747.4,288.3h0 M804.0,451.2h0 M741.3,515.2h0 M826.9,342.7h0 M814.8,372.4h0 M700.9,499.2h0 M764.1,438.3h0 M699.9,430.4h0 M774.5,277.5h0 M779.5,270.5h0 M710.7,277.5h0 M801.5,410.5h0 M726.3,411.4h0 M772.2,234.2h0 M682.8,467.4h0 M729.0,308.4h0 M710.7,417.7h0 M719.2,359.7h0 M720.4,275.1h0 M788.9,277.6h0 M731.7,515.7h0 M728.4,539.8h0 M738.7,261.7h0 M668.7,439.2h0 M721.7,393.7h0 M750.0,556.2h0 M742.8,219.6h0 M826.1,348.7h0 M807.0,260.9h0 M799.7,284.7h0 M728.0,525.7h0 M807.9,269.6h0 M693.0,353.3h0 M749.4,347.1h0 M794.4,213.7h0 M809.6,244.4h0 M764.7,411.3h0 M769.9,317.2h0 M731.0,423.9h0 M732.0,453.3h0 M736.0,368.2h0 M744.0,289.8h0 M738.2,268.3h0 M741.0,240.3h0 M747.9,214.7h0 M771.7,230.7h0 M789.9,499.2h0 M748.2,219.9h0 M746.7,344.9h0 M824.2,262.7h0 M794.2,260.3h0 M820.5,305.1h0 M805.3,254.4h0 M746.4,554.1h0 M747.1,322.2h0 M683.7,502.0h0 M771.6,337.9h0 M816.1,413.3h0 M761.0,539.7h0 M770.4,351.2h0 M802.0,301.2h0 M719.7,494.2h0 M735.1,267.2h0 M791.8,217.6h0 M806.1,296.9h0 M762.1,455.2h0 M767.8,365.8h0 M748.4,544.7h0 M774.8,207.6h0 M694.2,424.3h0 M762.7,277.8h0 M769.3,382.3h0 M670.0,445.3h0 M727.6,301.0h0 M757.7,334.2h0 M773.4,370.3h0 M728.3,290.7h0 M663.0,499.6h0 M828.9,253.9h0 M689.5,433.7h0 M747.3,446.6h0 M804.9,266.4h0 M710.2,314.9h0 M799.2,475.1h0 M792.1,378.6h0 M791.4,373.7h0 M715.1,488.4h0 M785.8,301.7h0 M756.1,367.3h0 M800.2,401.0h0 M701.9,446.8h0 M833.4,282.8h0 M792.3,325.2h0 M817.5,325.8h0 M770.6,466.4h0 M740.3,523.1h0 M734.2,478.7h0 M759.2,317.8h0 M691.8,439.3h0 M716.8,253.8h0 M782.2,443.7h0 M783.0,483.4h0 M720.3,514.6h0 M664.4,534.0h0 M771.2,517.5h0 M770.7,309.9h0 M794.4,278.1h0 M712.0,362.6h0 M705.1,475.3h0 M721.2,322.8h0 M833.2,393.4h0 M812.1,437.7h0 M734.1,497.4h0 M717.2,471.0h0 M753.1,282.6h0 M814.1,234.1h0 M806.1,264.8h0 M744.4,506.6h0 M686.7,389.9h0 M717.3,520.1h0 M783.5,391.3h0 M672.7,444.7h0 M667.2,503.1h0 M783.1,502.8h0 M770.1,336.3h0 M727.4,351.3h0 M819.4,232.3h0 M821.4,392.5h0 M723.3,540.2h0 M695.9,376.9h0 M751.9,490.2h0 M793.6,448.5h0 M717.5,325.1h0 M681.2,524.4h0 M776.5,485.4h0 M797.4,422.6h0 M818.4,290.8h0 M698.5,325.1h0 M750.2,261.1h0 M713.7,272.1h0 M789.9,366.9h0 M688.9,445.3h0 M727.0,504.3h0 M782.4,392.2h0 M770.9,377.8h0 M678.7,432.0h0 M728.1,485.0h0 M822.7,365.0h0 M759.9,488.2h0 M731.2,287.2h0 M797.5,469.2h0 M772.6,374.2h0 M710.8,441.5h0 M799.1,474.3h0 M770.4,295.5h0 M731.6,374.7h0 M768.9,357.0h0 M686.4,451.6h0 M798.3,349.0h0 M682.2,500.8h0 M828.8,399.4h0 M753.7,475.9h0 M748.3,445.8h0 M807.8,400.4h0 M691.5,463.2h0 M725.8,493.4h0 M703.6,353.3h0 M731.1,468.5h0 M718.2,301.4h0 M694.2,485.2h0 M828.7,402.5h0 M693.2,508.4h0 M725.7,280.8h0 M676.3,498.8h0 M804.2,443.8h0 M740.2,416.0h0 M718.4,445.6h0 M740.0,312.6h0 M755.1,247.3h0 M808.7,335.9h0 M811.9,302.2h0 M722.7,296.9h0 M732.1,270.8h0 M704.9,293.6h0 M708.7,384.1h0 M732.6,445.0h0 M775.9,338.9h0 M662.7,518.6h0 M678.4,519.9h0 M771.0,204.8h0 M775.3,295.5h0 M695.9,498.7h0 M717.1,257.9h0 M766.4,500.6h0 M689.1,466.4h0 M751.8,485.4h0 M734.5,539.7h0 M756.4,301.1h0 M744.7,221.6h0 M739.8,254.7h0 M744.4,391.3h0 M753.4,532.1h0 M740.0,416.2h0 M777.1,523.5h0 M722.5,360.7h0 M771.8,444.5h0 M748.0,386.1h0 M787.0,440.4h0 M715.7,531.6h0 M720.8,382.2h0 M750.8,496.4h0 M691.6,367.0h0 M731.4,412.9h0 M807.4,312.1h0 M807.6,354.8h0 M746.7,303.9h0 M775.1,504.7h0 M714.2,321.4h0 M708.3,425.4h0 M771.3,501.7h0 M659.5,478.0h0 M818.5,409.5h0 M775.7,503.6h0 M767.9,441.0h0 M782.9,429.2h0 M780.0,281.0h0 M777.4,375.7h0 M795.4,238.1h0 M775.3,341.4h0 M757.7,298.6h0 M708.8,361.8h0 M711.9,365.2h0 M804.3,421.1h0 M824.7,371.3h0 M763.3,561.0h0 M836.4,382.5h0 M729.5,238.4h0 M773.2,280.9h0 M668.6,534.6h0 M787.2,292.5h0 M789.9,271.3h0 M661.4,497.8h0 M789.2,231.5h0 M770.2,472.8h0 M805.7,229.8h0 M710.5,480.6h0 M683.2,531.3h0 M743.4,222.1h0 M721.1,420.9h0 M734.5,460.3h0 M679.2,506.8h0 M720.3,447.9h0 M770.4,360.3h0 M724.5,502.5h0 M758.6,311.9h0 M714.4,432.8h0 M765.0,318.1h0 M732.6,541.8h0 M722.8,463.3h0 M765.1,544.9h0 M803.8,308.4h0 M731.4,425.4h0 M660.0,520.6h0 M759.5,304.7h0 M756.1,506.8h0 M689.7,488.6h0 M827.2,289.3h0 M766.1,460.6h0 M739.5,278.7h0 M699.9,488.9h0 M800.8,376.5h0 M668.5,510.3h0 M797.2,288.9h0 M761.0,545.2h0 M818.4,400.4h0 M741.6,426.5h0 M686.0,469.6h0 M720.2,416.9h0 M727.7,398.6h0 M672.0,443.2h0 M800.0,259.3h0 M764.3,332.1h0 M749.7,206.9h0 M814.8,386.7h0 M758.6,300.0h0 M798.5,363.4h0 M756.8,535.1h0 M764.4,352.4h0 M700.4,416.9h0 M777.9,350.7h0 M736.3,260.7h0 M700.1,334.9h0 M799.8,472.9h0 M779.3,314.3h0 M763.2,491.5h0 M742.5,264.1h0 M779.4,203.9h0 M786.8,274.3h0 M810.3,441.6h0 M737.0,330.2h0 M806.7,383.3h0 M770.1,254.1h0 M786.2,412.6h0 M679.2,535.1h0 M702.1,357.9h0 M809.8,328.1h0 M683.5,388.5h0 M777.6,280.5h0 M741.8,309.5h0 M788.6,312.3h0 M803.7,330.6h0 M808.5,402.3h0 M823.5,283.3h0 M759.4,252.3h0 M685.9,496.4h0 M785.8,274.9h0 M766.4,390.3h0 M767.1,472.2h0 M804.6,424.0h0 M789.8,356.5h0 M787.7,220.4h0 M804.4,328.4h0 M744.7,205.0h0 M823.1,383.0h0 M815.9,301.8h0 M687.0,520.0h0 M721.0,262.1h0 M721.8,428.6h0 M735.8,398.0h0 M674.7,474.8h0 M712.3,473.5h0 M723.7,489.0h0 M663.5,535.9h0 M831.4,390.0h0 M748.5,403.8h0 M753.0,207.0h0 M833.9,285.3h0 M699.1,514.4h0 M783.4,274.3h0 M760.4,400.8h0 M784.1,238.7h0 M744.8,392.3h0 M728.3,251.9h0 M763.3,531.4h0 M679.7,420.1h0 M792.4,262.4h0 M725.1,361.3h0 M809.9,401.9h0 M798.1,329.7h0 M697.2,328.3h0 M698.9,361.9h0 M770.9,339.7h0 M751.8,225.7h0 M733.4,393.8h0 M772.6,301.6h0 M779.5,304.5h0 M753.9,555.8h0 M768.8,295.7h0 M749.8,366.4h0 M830.8,310.0h0 M709.4,448.9h0 M674.6,428.4h0 M831.7,397.3h0 M702.5,379.0h0 M752.4,256.3h0 M707.2,355.9h0 M706.2,293.0h0 M809.9,434.4h0 M759.2,450.0h0 M689.8,473.2h0 M738.6,410.5h0 M767.2,380.0h0 M710.4,292.5h0 M693.7,396.8h0 M724.0,425.1h0 M814.0,291.1h0 M756.7,388.7h0 M707.6,497.0h0 M815.8,368.8h0 M734.7,482.9h0 M718.3,459.7h0 M767.9,527.1h0 M806.4,398.9h0 M790.9,485.9h0 M794.8,382.4h0 M799.6,472.5h0 M824.0,248.1h0 M795.9,425.1h0 M759.5,360.3h0 M766.2,345.5h0 M737.0,375.8h0 M787.9,312.1h0 M725.4,413.4h0 M724.3,323.3h0 M745.9,370.4h0 M679.3,421.1h0 M761.3,232.9h0 M825.0,324.0h0 M832.2,277.9h0 M732.2,550.5h0 M758.2,391.0h0 M749.3,398.7h0 M780.8,349.4h0 M719.2,428.6h0 M779.2,401.7h0 M727.4,415.7h0 M759.9,538.6h0 M833.3,386.9h0 M734.8,440.1h0 M839.3,331.5h0 M751.7,513.9h0 M748.4,241.7h0" stroke="#f6d6e9" stroke-width="2.6" stroke-linecap="round" opacity="1.0"/>
<path d="M699.1,271.8h0 M747.3,200.0h0 M836.0,300.0h0 M750.8,576.0h0 M651.1,524.5h0 M740.5,201.5h0 M784.3,511.3h0 M666.9,474.2h0 M683.4,328.7h0 M828.5,327.7h0 M829.7,384.2h0 M736.0,196.9h0 M841.4,270.3h0 M832.3,247.8h0 M743.3,547.1h0 M688.8,368.9h0 M671.4,413.7h0 M807.4,475.0h0 M835.1,231.5h0 M797.5,467.3h0 M804.9,201.9h0 M709.9,232.9h0 M857.3,382.9h0 M689.6,341.7h0 M686.0,371.5h0 M699.7,228.5h0 M826.6,380.4h0 M832.1,368.0h0 M762.1,577.5h0 M835.5,310.2h0 M725.8,230.8h0 M822.0,249.9h0 M789.6,513.4h0 M687.8,356.2h0 M838.4,328.9h0 M774.5,196.4h0 M837.6,285.3h0 M838.6,392.4h0 M779.9,532.9h0 M830.1,303.8h0 M801.0,487.1h0 M712.1,235.5h0 M778.5,565.6h0 M846.4,381.0h0 M798.8,493.4h0 M842.5,339.3h0 M736.9,562.8h0 M668.2,408.6h0 M701.0,540.5h0 M826.8,243.4h0 M814.6,437.0h0 M701.8,543.0h0 M833.7,423.2h0 M848.6,365.8h0 M816.2,418.9h0 M692.2,384.9h0 M836.4,269.1h0 M653.1,477.2h0 M774.5,508.1h0 M842.1,369.5h0 M660.1,534.7h0 M708.1,256.5h0 M789.0,205.5h0 M837.1,337.3h0 M777.9,215.9h0 M845.6,301.7h0 M664.5,459.8h0 M658.0,480.3h0 M694.6,335.6h0 M793.7,194.7h0 M790.4,209.6h0 M688.3,401.4h0 M683.9,427.1h0 M788.5,486.3h0 M851.3,418.3h0 M790.6,523.9h0 M675.7,418.9h0 M782.0,560.0h0 M756.0,532.1h0 M835.4,260.3h0 M664.1,456.4h0 M732.7,541.6h0 M721.9,548.7h0 M797.3,475.5h0 M830.3,442.4h0 M656.4,499.7h0 M722.5,570.1h0 M799.2,484.6h0 M830.7,272.8h0 M675.4,355.9h0 M833.0,291.2h0 M768.3,546.1h0 M828.5,259.7h0 M846.4,339.5h0 M837.0,318.7h0 M825.5,259.2h0 M802.2,479.7h0 M771.1,199.6h0 M812.3,201.8h0 M715.5,540.5h0 M778.6,549.3h0 M765.1,193.8h0 M670.7,526.4h0 M837.3,384.1h0 M774.5,185.5h0 M831.8,431.3h0 M700.4,329.9h0 M688.7,375.3h0 M821.3,460.9h0 M809.5,448.3h0 M801.3,476.3h0 M773.0,199.1h0 M685.3,337.6h0 M706.5,241.6h0 M835.0,301.9h0 M812.7,219.3h0 M775.3,546.0h0 M777.9,206.3h0 M683.4,444.7h0 M699.5,314.2h0 M826.4,399.2h0 M773.9,535.6h0 M664.2,479.6h0 M836.1,306.5h0 M704.2,538.9h0 M813.8,236.1h0 M743.7,210.0h0 M742.6,214.6h0 M701.3,369.2h0 M663.6,555.3h0 M706.1,235.5h0 M815.2,437.7h0 M777.1,215.1h0 M781.7,557.2h0 M788.8,480.0h0 M723.9,550.2h0 M838.5,268.4h0 M732.5,554.7h0 M846.2,387.4h0 M825.8,380.1h0 M834.6,353.8h0 M740.6,562.7h0 M792.4,520.1h0 M685.3,311.4h0 M694.7,431.5h0 M679.4,455.8h0 M800.2,521.8h0 M708.6,529.5h0 M685.4,398.2h0 M808.9,485.9h0 M834.9,356.6h0 M787.0,523.5h0 M681.9,300.1h0 M707.5,322.1h0 M810.0,444.6h0 M698.1,357.0h0 M682.9,426.6h0 M783.4,202.0h0 M719.8,538.5h0 M709.4,252.9h0 M823.6,329.9h0 M693.4,537.3h0 M831.0,242.4h0 M710.9,552.8h0 M804.9,506.5h0 M719.9,533.6h0 M726.2,238.4h0 M820.2,284.2h0 M691.4,375.2h0 M686.6,349.6h0 M772.1,590.7h0 M797.4,494.1h0 M808.5,227.3h0 M702.9,286.4h0 M832.6,309.9h0 M689.5,540.3h0 M744.5,195.9h0 M739.7,208.3h0 M796.6,215.4h0 M834.5,409.7h0 M826.6,384.6h0 M722.3,230.1h0 M712.0,517.6h0 M670.2,388.1h0 M797.3,492.4h0 M713.2,302.1h0 M825.0,411.4h0 M740.7,561.5h0 M714.3,543.3h0 M798.5,478.6h0 M756.6,586.3h0 M835.2,367.5h0 M759.6,192.8h0 M763.9,545.6h0 M846.0,304.5h0 M820.2,418.7h0 M704.4,265.1h0 M695.1,539.4h0 M701.2,535.2h0 M662.5,405.3h0 M786.2,218.9h0 M834.9,404.0h0 M837.3,311.3h0 M834.1,351.6h0 M681.1,532.5h0 M837.6,304.6h0 M688.7,549.6h0 M698.4,308.8h0 M821.8,315.4h0 M659.9,518.0h0 M814.5,432.5h0 M781.1,506.1h0 M795.4,212.5h0 M653.8,541.9h0 M676.7,550.9h0 M769.1,195.5h0 M750.1,212.3h0 M664.5,446.8h0 M848.2,301.4h0 M825.6,221.2h0 M716.1,542.6h0 M647.3,500.2h0 M669.4,441.9h0 M677.0,399.9h0 M688.1,397.7h0 M812.9,401.0h0 M846.9,267.3h0 M654.7,498.5h0 M741.7,221.6h0 M826.7,230.8h0 M788.3,212.5h0 M847.4,310.4h0 M844.9,296.1h0 M712.7,264.5h0 M681.0,419.7h0 M746.7,568.9h0 M678.1,375.8h0 M718.8,288.2h0 M798.1,208.5h0 M709.7,319.6h0 M801.9,506.9h0 M660.0,538.9h0 M830.6,392.1h0 M840.5,320.9h0 M832.2,421.1h0 M712.6,547.7h0 M698.3,325.5h0 M689.7,361.4h0 M764.1,581.6h0 M649.9,475.7h0 M698.5,531.4h0 M692.7,309.3h0 M706.2,332.4h0 M742.3,204.7h0 M830.8,248.7h0 M717.9,283.6h0 M831.3,248.5h0 M811.3,247.2h0 M683.2,433.5h0 M778.3,219.1h0 M669.4,477.7h0 M834.4,362.4h0 M772.5,201.1h0 M709.2,309.0h0 M832.9,272.6h0 M667.2,490.8h0 M757.4,579.3h0 M761.0,573.0h0 M857.4,341.2h0 M667.2,442.2h0 M838.9,392.8h0 M736.7,574.2h0 M814.3,477.3h0 M642.1,505.9h0 M677.4,472.4h0 M658.7,453.8h0 M788.6,524.0h0 M787.6,498.7h0 M757.3,200.6h0 M712.4,270.6h0 M795.4,494.7h0 M839.9,239.8h0 M721.7,278.7h0 M808.6,434.5h0 M819.4,436.0h0 M677.8,414.5h0 M688.7,539.0h0 M657.6,521.3h0 M655.1,461.1h0 M660.4,537.6h0 M652.1,528.9h0 M662.1,564.5h0 M761.4,563.1h0 M763.3,581.8h0 M702.2,255.3h0 M736.7,549.1h0 M843.5,295.7h0 M663.1,503.5h0 M708.1,314.3h0 M694.9,340.7h0 M838.5,291.4h0 M806.5,460.9h0 M776.6,560.1h0 M740.8,191.9h0 M766.5,564.0h0 M834.8,275.7h0 M739.8,567.9h0 M808.1,458.2h0 M837.1,330.2h0 M837.9,303.3h0 M816.5,460.2h0 M810.8,217.7h0 M825.7,339.7h0 M660.2,542.2h0 M762.1,556.6h0 M816.3,425.7h0 M683.3,371.6h0 M699.6,532.7h0 M726.6,211.3h0 M653.5,500.4h0 M665.8,421.6h0 M765.8,568.0h0 M761.6,196.7h0 M771.3,556.0h0 M770.7,568.0h0 M739.9,579.5h0 M655.4,483.8h0 M779.1,193.8h0 M677.9,397.7h0 M853.5,358.0h0 M838.9,248.2h0 M719.6,538.1h0 M660.5,455.6h0 M649.0,479.6h0 M752.3,183.7h0 M832.8,288.7h0 M758.8,199.3h0 M833.9,395.9h0 M687.9,316.4h0 M786.7,528.9h0 M705.1,296.0h0 M837.8,387.4h0 M720.1,556.9h0 M750.5,578.1h0 M692.3,392.2h0 M720.4,540.8h0 M720.2,558.2h0 M813.5,458.7h0 M824.8,399.7h0 M662.1,545.1h0 M773.3,546.1h0 M772.8,536.1h0 M709.6,322.0h0 M849.6,306.6h0 M672.4,373.8h0 M655.0,494.6h0 M706.4,355.2h0 M842.8,339.6h0 M690.3,385.7h0 M653.1,523.2h0 M660.2,481.0h0 M676.7,473.8h0 M829.2,429.1h0 M813.0,436.8h0 M701.6,286.8h0 M846.2,261.4h0 M798.1,503.1h0 M655.9,531.3h0 M809.1,236.3h0 M774.1,530.9h0 M707.0,362.4h0 M753.9,197.7h0 M820.4,427.0h0 M757.1,575.2h0 M768.2,575.1h0 M728.5,550.1h0 M849.7,387.0h0 M840.5,355.3h0 M684.4,539.4h0 M715.4,239.3h0 M805.5,453.1h0 M677.3,440.9h0 M836.5,426.0h0 M809.0,229.9h0 M676.9,540.8h0 M754.2,571.9h0 M829.3,262.8h0 M793.1,482.2h0 M846.6,299.2h0 M702.1,328.1h0 M853.8,293.0h0 M820.3,254.0h0 M826.4,255.3h0 M719.6,550.2h0 M835.0,332.0h0 M836.2,280.7h0 M751.6,572.0h0 M700.9,243.8h0 M699.4,527.0h0 M676.2,425.3h0 M766.4,209.7h0 M831.5,413.4h0 M695.8,547.4h0 M680.6,385.7h0 M816.6,358.9h0 M774.4,194.9h0 M680.7,374.8h0 M767.6,562.9h0 M708.2,250.2h0 M821.0,243.5h0 M662.1,491.8h0 M840.2,280.5h0 M843.4,444.6h0 M672.9,383.3h0 M692.7,384.9h0 M659.6,536.0h0 M696.4,328.5h0 M661.8,453.8h0 M718.3,210.6h0 M847.8,250.7h0 M707.1,260.9h0 M678.2,367.2h0 M695.6,333.6h0 M836.5,419.1h0 M735.0,256.0h0 M682.1,402.8h0 M841.4,370.4h0 M818.3,366.2h0 M656.2,470.3h0 M685.0,375.8h0 M720.6,236.0h0 M810.0,214.3h0 M795.3,447.0h0 M694.2,381.0h0 M773.9,211.6h0 M772.1,519.0h0 M813.0,461.2h0 M689.8,328.3h0 M818.6,242.7h0 M763.1,531.8h0 M831.7,254.5h0 M694.2,360.0h0 M716.2,234.5h0 M689.5,279.4h0 M766.0,503.9h0 M753.3,568.9h0 M698.5,355.7h0 M756.1,218.4h0 M770.9,550.6h0 M813.8,474.3h0 M689.9,316.3h0 M723.8,247.9h0 M804.6,214.9h0 M711.9,239.6h0 M649.4,535.6h0 M665.8,481.4h0 M803.2,476.9h0 M688.9,331.9h0 M770.4,531.8h0 M667.4,436.6h0 M829.7,461.1h0 M711.9,299.6h0 M704.7,537.4h0 M666.9,416.3h0 M672.6,419.2h0 M792.1,525.1h0 M683.1,362.0h0 M720.1,212.4h0 M840.6,413.5h0 M694.1,342.7h0 M819.8,272.2h0 M838.4,289.5h0 M827.7,435.4h0 M815.3,489.2h0 M831.7,338.7h0 M835.8,337.0h0 M827.9,255.1h0 M798.6,494.5h0 M848.0,329.2h0 M683.8,328.4h0 M828.1,447.7h0 M751.6,566.3h0 M671.5,425.6h0 M703.4,264.9h0 M656.8,544.9h0 M790.1,194.0h0 M810.6,466.1h0 M847.9,376.5h0 M669.1,407.8h0 M693.7,372.3h0 M665.2,514.1h0 M660.9,463.9h0 M715.7,237.1h0 M792.0,494.4h0 M847.2,309.3h0 M729.3,542.0h0 M835.5,271.0h0 M764.3,520.1h0 M647.4,491.0h0 M696.3,551.1h0" stroke="#f2a8d5" stroke-width="2.8" stroke-linecap="round" opacity="1.0"/>
<path d="M573.0,408.6h0 M638.6,553.3h0 M560.4,259.3h0 M545.3,366.1h0 M756.8,173.6h0 M691.3,618.9h0 M704.0,621.3h0 M841.2,255.8h0 M638.6,552.4h0 M898.5,450.1h0 M546.9,346.6h0 M672.8,607.3h0 M657.6,163.8h0 M560.3,390.9h0 M729.5,179.6h0 M889.1,427.8h0 M845.3,258.2h0 M548.3,341.7h0 M630.1,135.8h0 M829.6,628.4h0 M669.9,600.7h0 M897.5,508.2h0 M858.1,262.8h0 M560.2,392.4h0 M590.3,142.8h0 M757.1,180.7h0 M617.1,512.0h0 M820.5,228.6h0 M825.7,228.6h0 M892.3,565.9h0 M827.7,239.0h0 M626.9,520.4h0 M580.7,191.8h0 M618.0,496.7h0 M611.2,122.2h0 M670.2,607.2h0 M792.4,191.8h0 M885.4,376.7h0 M901.5,441.9h0 M882.8,583.6h0 M788.5,187.0h0 M592.5,132.4h0 M864.3,605.4h0 M723.2,173.6h0 M838.0,250.6h0 M558.3,240.7h0 M581.8,151.3h0 M903.1,480.4h0 M763.6,179.6h0 M726.6,632.4h0 M547.8,354.9h0 M646.9,145.6h0 M672.1,176.0h0 M547.7,280.6h0 M835.5,252.3h0 M904.0,486.0h0 M752.1,180.8h0 M723.6,628.5h0 M894.7,564.9h0 M652.8,157.8h0 M636.4,553.6h0 M652.2,579.6h0 M775.4,181.6h0 M665.4,175.1h0 M849.3,276.3h0 M544.4,363.6h0 M645.3,148.2h0 M559.9,394.9h0 M864.7,285.9h0 M642.0,554.8h0 M564.0,235.2h0 M615.2,126.5h0 M584.5,158.0h0 M556.9,393.0h0 M723.7,168.1h0 M568.7,237.5h0 M762.9,618.8h0 M677.5,610.0h0 M686.9,174.0h0 M880.6,355.6h0 M610.3,462.8h0 M551.6,384.3h0 M653.8,585.3h0 M732.4,174.9h0 M900.0,444.1h0 M547.8,329.4h0 M898.6,467.0h0 M773.4,181.9h0 M591.0,431.8h0 M731.8,172.5h0 M807.1,635.1h0 M689.2,613.2h0 M613.7,471.3h0 M546.8,347.6h0 M629.5,546.8h0 M553.8,296.8h0 M888.8,563.5h0 M881.0,371.0h0 M699.0,173.7h0 M655.4,575.0h0 M552.0,348.7h0 M878.2,334.7h0 M619.6,135.3h0 M562.4,235.8h0 M588.4,421.6h0 M797.9,634.5h0 M883.2,385.3h0 M788.0,628.8h0 M792.8,628.3h0 M566.8,211.9h0 M626.2,536.9h0 M838.9,260.0h0 M608.6,130.8h0 M589.3,139.4h0 M623.8,536.7h0 M598.5,454.5h0 M626.1,132.1h0 M877.3,310.5h0 M716.8,626.5h0 M623.2,531.1h0 M671.6,170.9h0 M775.2,186.3h0 M582.9,162.6h0 M589.8,432.3h0 M879.2,375.0h0 M887.9,568.8h0 M566.7,220.6h0 M631.2,134.9h0 M548.5,318.8h0 M880.7,336.6h0 M561.1,256.9h0 M723.7,629.9h0 M781.4,189.7h0 M898.6,481.0h0 M849.5,266.7h0 M552.3,332.1h0 M899.8,455.0h0 M572.5,413.5h0 M807.7,634.9h0 M564.5,404.8h0 M592.3,439.0h0 M843.5,263.4h0 M654.6,593.0h0 M649.3,149.5h0 M861.4,280.7h0 M731.7,178.0h0 M708.0,172.7h0 M809.3,212.1h0 M742.3,178.3h0 M873.2,597.3h0 M675.6,177.2h0 M758.9,621.4h0 M552.7,323.5h0 M803.6,634.8h0 M548.6,310.6h0 M878.2,317.9h0 M615.2,481.0h0 M887.3,397.4h0 M905.8,459.2h0 M859.3,613.3h0 M650.6,578.5h0 M868.5,596.4h0 M853.6,279.3h0 M655.3,585.3h0 M575.2,192.0h0 M901.8,461.3h0 M846.6,267.1h0 M689.6,173.0h0 M891.8,563.6h0 M595.5,453.7h0 M901.4,510.7h0 M576.9,197.4h0 M824.7,630.7h0 M586.7,132.0h0 M550.5,364.3h0 M881.5,592.0h0 M884.5,400.3h0 M644.8,559.6h0 M797.1,197.0h0 M697.5,624.1h0 M754.2,624.3h0 M868.3,292.0h0 M784.0,190.5h0 M733.1,632.9h0 M859.8,283.0h0 M878.7,583.1h0 M652.3,560.9h0 M879.4,323.3h0 M654.6,154.6h0 M613.6,130.1h0 M585.0,166.2h0 M800.3,627.3h0 M649.5,577.8h0 M863.2,287.3h0 M566.7,391.9h0 M830.5,233.4h0 M748.7,639.2h0 M871.9,309.0h0 M804.3,632.2h0 M605.2,464.0h0 M638.0,556.0h0 M862.3,601.6h0 M658.4,591.9h0 M574.9,416.3h0 M580.6,183.8h0 M582.8,174.5h0 M608.1,477.5h0 M592.3,435.8h0 M842.4,257.5h0 M761.8,182.4h0 M677.4,169.3h0 M735.6,638.9h0 M892.9,562.7h0 M613.5,126.1h0 M905.3,464.0h0 M544.3,347.4h0 M622.8,515.7h0 M590.5,437.3h0 M544.0,366.8h0 M548.5,293.5h0 M606.1,125.6h0 M878.1,329.3h0 M808.2,208.0h0 M853.9,279.1h0 M588.9,140.2h0 M572.5,212.4h0 M886.9,417.5h0 M897.3,533.0h0 M658.7,159.2h0 M699.0,166.3h0 M875.6,311.5h0 M889.7,426.7h0 M567.5,220.0h0 M786.9,187.6h0 M617.6,504.7h0 M562.9,397.7h0 M822.2,223.6h0 M569.7,408.4h0 M645.2,563.7h0 M823.6,229.8h0 M667.2,602.5h0 M892.4,539.9h0 M630.1,134.8h0 M877.9,351.6h0 M690.2,615.1h0 M883.5,381.8h0 M793.1,197.4h0 M545.4,355.4h0 M565.7,406.1h0 M619.4,495.0h0 M702.6,170.3h0 M790.0,186.3h0 M876.5,591.8h0 M824.9,628.7h0 M612.0,499.3h0 M725.5,175.6h0 M857.3,619.6h0 M846.5,268.0h0 M618.8,502.9h0 M893.6,569.6h0 M686.0,615.7h0 M664.5,597.9h0 M587.7,147.7h0 M870.6,593.3h0 M670.5,166.9h0 M893.9,561.3h0 M706.9,170.3h0 M880.6,349.6h0 M724.9,175.2h0 M794.6,629.5h0 M809.1,205.6h0 M891.8,423.2h0 M586.3,163.3h0 M613.2,463.0h0 M870.5,601.8h0 M875.9,353.2h0 M612.7,477.3h0 M584.2,183.8h0 M890.5,425.0h0 M871.3,598.7h0 M546.2,325.4h0 M603.9,463.8h0 M901.8,528.7h0 M746.4,636.3h0 M704.9,617.1h0 M891.1,401.7h0 M873.5,322.5h0 M895.1,442.9h0 M854.7,269.5h0 M669.3,594.9h0 M870.6,288.8h0 M587.3,130.2h0 M552.3,386.3h0 M901.6,479.5h0 M781.0,632.9h0 M896.3,426.7h0 M555.4,294.8h0 M603.4,458.9h0 M651.9,149.4h0 M878.4,587.9h0" stroke="#f3c2de" stroke-width="2.6" stroke-linecap="round" opacity="1.0"/>
<path d="M808.1,425.6h0 M740.9,375.1h0 M792.1,367.6h0 M737.4,345.7h0 M799.6,465.1h0 M772.3,301.9h0 M694.3,308.7h0 M795.9,355.9h0 M764.9,328.2h0 M664.6,289.6h0 M731.2,396.5h0 M795.3,440.8h0 M694.0,422.6h0 M830.6,472.2h0 M677.3,289.0h0 M774.2,434.8h0 M785.5,346.4h0 M751.4,413.0h0 M808.2,505.3h0 M792.3,490.6h0 M803.4,419.2h0 M713.0,397.1h0 M688.6,323.4h0 M826.9,479.2h0 M770.5,460.0h0 M754.1,312.7h0 M810.4,415.8h0 M812.6,472.6h0 M812.1,352.1h0 M745.1,467.2h0 M793.4,434.1h0 M760.3,463.4h0 M726.0,377.6h0 M748.6,395.0h0 M675.1,341.2h0" stroke="#22b5b0" stroke-width="2.6" stroke-linecap="round"/>
<path d="M701.4,396.4h0 M696.7,368.2h0 M722.2,435.4h0 M697.5,333.1h0 M690.1,418.0h0 M770.8,426.7h0 M683.5,330.2h0 M697.7,373.0h0 M620.9,261.7h0 M668.8,288.5h0 M669.5,305.6h0 M684.6,369.1h0 M671.6,295.5h0 M649.3,303.2h0 M615.9,356.4h0" stroke="#22b5b0" stroke-width="2.6" stroke-linecap="round"/>
<path d="M493.7,209.2h0 M491.2,111.0h0 M511.5,104.0h0 M529.8,212.2h0 M479.8,131.6h0 M483.4,131.3h0 M528.0,136.5h0 M437.6,198.7h0 M554.7,180.8h0 M471.6,167.8h0 M566.6,137.8h0 M484.7,124.2h0 M505.1,172.1h0 M535.5,209.8h0 M436.4,133.1h0 M555.1,189.0h0 M511.1,174.1h0 M469.1,209.2h0 M504.3,137.9h0 M562.8,190.3h0 M492.6,150.2h0 M473.1,202.7h0 M470.8,155.0h0 M568.1,169.1h0 M492.1,128.7h0 M477.0,165.1h0 M544.0,119.3h0 M474.2,136.0h0 M473.0,205.1h0 M502.5,121.3h0 M467.8,193.0h0 M438.9,175.7h0 M436.7,115.0h0 M535.2,179.7h0 M564.9,209.5h0 M504.6,206.2h0 M484.9,110.4h0 M537.7,197.9h0 M476.8,97.3h0 M558.7,184.1h0 M512.3,213.4h0 M531.0,167.9h0 M442.4,165.1h0 M525.0,212.5h0 M485.0,136.4h0 M454.6,115.6h0 M530.6,108.0h0 M471.0,181.9h0 M421.9,154.7h0 M526.4,89.4h0 M485.8,189.0h0 M508.7,144.4h0 M560.1,164.0h0 M468.6,137.1h0 M565.7,158.7h0 M476.4,175.8h0 M544.0,152.7h0 M481.6,173.0h0 M507.7,180.8h0 M480.7,211.2h0 M515.4,126.6h0 M475.3,120.4h0 M563.8,189.2h0 M544.4,193.0h0 M465.5,184.6h0 M456.1,165.3h0 M438.6,197.8h0 M494.1,121.2h0 M568.3,184.5h0 M437.0,185.1h0 M508.3,204.3h0 M510.5,141.2h0 M542.5,98.5h0 M458.5,100.0h0 M558.4,143.1h0 M534.0,118.7h0 M534.7,170.3h0 M428.4,149.9h0 M533.3,113.2h0 M521.9,121.5h0 M474.2,206.0h0 M483.7,160.2h0 M547.8,184.7h0 M488.6,198.6h0 M479.4,209.9h0 M491.4,100.6h0 M537.9,104.1h0 M526.2,92.0h0 M578.0,156.1h0 M536.4,102.2h0 M519.0,134.5h0 M453.8,192.2h0 M417.6,147.8h0 M490.0,146.7h0 M532.7,180.9h0 M469.7,207.7h0 M548.9,100.8h0 M443.2,150.8h0 M468.5,106.5h0 M568.2,147.3h0 M544.0,117.9h0 M565.3,114.1h0 M564.3,165.6h0 M518.0,155.1h0 M555.6,143.3h0 M547.3,174.7h0 M537.1,115.5h0 M489.8,193.2h0 M439.0,174.9h0 M505.1,138.3h0 M491.0,149.9h0 M457.0,133.3h0 M505.1,185.2h0 M511.0,106.3h0 M560.9,133.3h0 M435.6,161.6h0 M574.4,135.6h0 M504.0,126.3h0 M432.8,122.4h0 M517.8,159.0h0 M571.3,175.1h0 M472.9,209.8h0 M518.5,156.4h0 M556.9,173.1h0 M472.5,164.5h0 M504.9,112.1h0 M497.3,100.5h0 M552.6,173.0h0 M527.0,206.9h0 M420.3,141.1h0 M574.8,126.2h0 M481.8,203.7h0 M511.0,193.4h0 M442.1,194.4h0 M456.9,200.8h0 M498.6,127.5h0 M574.4,138.3h0 M529.2,93.8h0 M551.5,214.0h0 M430.6,183.1h0 M457.4,104.5h0 M473.2,172.0h0 M521.8,106.2h0 M534.0,157.5h0 M472.3,203.4h0 M454.9,103.6h0 M510.9,190.3h0 M438.9,151.1h0 M508.5,158.7h0 M481.3,156.5h0 M483.0,116.1h0 M539.1,116.8h0 M550.4,116.8h0 M427.6,147.8h0 M477.1,129.1h0 M540.5,114.2h0 M524.6,194.8h0 M488.0,151.2h0 M567.2,164.4h0 M425.8,128.6h0 M426.9,170.3h0 M483.2,125.6h0 M498.0,208.2h0 M453.1,105.3h0 M463.3,127.6h0 M564.9,177.9h0 M484.0,106.8h0 M554.4,170.2h0 M438.3,167.2h0 M421.8,151.7h0 M468.3,98.5h0 M536.7,179.3h0 M497.8,107.1h0 M524.5,142.0h0 M523.1,97.0h0 M449.4,137.4h0 M527.5,215.7h0 M468.3,120.0h0 M524.7,114.3h0 M479.3,175.5h0 M484.4,105.5h0 M423.8,156.4h0 M428.8,151.1h0 M494.1,110.5h0 M524.5,150.2h0 M547.9,123.4h0 M568.9,192.1h0 M491.6,103.6h0 M493.3,101.7h0 M527.2,176.7h0 M509.1,213.4h0 M546.5,99.8h0 M509.9,180.1h0 M470.5,176.5h0 M473.6,178.7h0 M427.4,180.5h0 M557.3,168.7h0 M438.1,199.7h0 M532.4,100.1h0 M475.9,173.3h0 M471.4,200.0h0 M579.4,126.9h0 M564.7,188.4h0 M557.3,162.4h0 M574.9,169.7h0 M571.2,159.4h0 M445.0,153.2h0 M493.1,129.4h0 M474.8,152.1h0 M510.8,114.3h0 M458.6,151.1h0 M496.7,140.1h0 M523.6,109.4h0 M501.3,121.3h0 M541.4,177.5h0 M543.2,153.0h0 M453.8,206.7h0 M497.8,134.3h0 M460.8,137.9h0 M531.1,192.6h0 M493.1,181.1h0 M447.8,144.4h0 M472.1,125.3h0 M472.4,184.2h0 M535.2,112.3h0 M451.3,188.1h0 M522.0,173.9h0 M518.7,176.2h0 M573.6,154.0h0 M524.6,212.1h0 M547.1,115.2h0 M468.6,99.3h0 M545.7,181.9h0 M493.9,133.6h0 M457.3,149.1h0 M531.6,202.7h0 M554.6,199.1h0 M485.8,140.4h0 M459.2,206.3h0 M555.3,128.6h0 M555.1,202.1h0 M483.8,110.3h0 M541.8,134.3h0 M485.8,137.3h0 M512.0,118.6h0 M415.4,136.3h0 M474.5,185.1h0 M467.9,174.4h0 M516.9,109.8h0 M514.6,123.6h0 M445.6,197.5h0 M564.8,115.7h0 M510.4,160.6h0 M466.7,169.7h0 M513.1,152.1h0 M464.3,139.8h0 M473.0,203.7h0 M452.4,197.6h0 M452.9,162.2h0 M545.8,191.6h0 M457.2,187.1h0 M492.5,214.8h0 M421.1,135.0h0 M450.3,167.2h0 M542.7,195.7h0 M504.1,135.9h0 M546.3,98.8h0 M455.7,184.0h0 M427.3,145.7h0 M474.0,141.9h0 M497.3,123.0h0 M529.9,152.9h0 M497.8,149.9h0 M474.5,198.2h0 M447.2,200.4h0 M472.1,129.1h0 M515.3,159.1h0 M572.5,133.6h0 M431.2,171.3h0 M501.4,128.1h0 M467.2,196.1h0 M468.9,139.9h0 M572.8,132.5h0 M479.5,106.3h0 M523.3,172.4h0 M487.0,138.4h0 M451.1,188.9h0 M488.8,194.4h0 M475.0,181.5h0 M573.4,174.7h0 M525.5,150.4h0 M491.4,111.0h0 M441.1,169.8h0 M528.6,119.0h0 M520.3,102.9h0 M515.0,107.6h0 M497.6,126.3h0 M504.5,102.6h0 M493.2,166.1h0 M434.6,125.6h0 M526.0,156.8h0 M515.6,187.6h0 M508.0,114.2h0 M486.3,194.2h0 M507.2,184.0h0 M473.2,144.0h0 M521.7,99.0h0 M514.8,89.4h0 M534.3,120.2h0 M554.1,108.3h0 M551.1,153.5h0 M485.9,194.2h0 M527.7,155.1h0 M556.9,111.7h0 M563.0,129.6h0 M516.9,100.9h0 M438.8,123.5h0 M458.8,206.0h0 M564.1,199.4h0 M578.3,142.9h0 M545.7,121.9h0 M567.7,191.6h0 M535.0,114.9h0 M504.8,165.5h0 M556.8,103.9h0 M529.5,146.0h0 M544.1,145.0h0 M459.2,182.9h0 M551.6,117.6h0 M528.8,137.1h0 M449.6,113.6h0 M572.3,133.4h0 M497.7,150.9h0 M537.2,200.2h0 M472.0,112.6h0 M470.4,181.3h0 M522.5,138.4h0 M500.1,105.3h0 M566.3,147.0h0 M497.1,188.5h0 M445.2,180.0h0 M471.4,191.8h0 M427.9,121.3h0 M518.8,148.4h0 M475.3,161.1h0 M448.6,142.5h0 M454.7,194.2h0 M504.8,164.1h0 M517.2,101.5h0 M542.6,123.4h0 M556.9,188.4h0 M525.9,192.2h0 M485.4,173.5h0 M428.9,139.2h0 M497.6,104.6h0 M449.2,199.0h0 M477.2,104.6h0 M442.7,160.9h0 M443.9,147.5h0 M502.3,142.8h0 M496.6,195.0h0 M540.9,159.9h0 M502.4,113.6h0 M543.2,125.3h0 M534.1,115.0h0 M508.2,170.2h0 M474.4,148.1h0 M423.0,169.6h0 M528.1,105.2h0 M504.5,181.4h0 M494.2,117.9h0 M462.4,145.7h0 M474.4,188.7h0 M533.4,100.0h0 M467.3,99.2h0 M529.1,187.6h0 M481.2,207.4h0 M477.9,126.1h0 M498.0,143.0h0 M485.4,186.1h0" stroke="#c93f68" stroke-width="2.8" stroke-linecap="round" opacity="1.0"/>
<path d="M552.8,194.8h0 M467.3,191.9h0 M560.8,191.9h0 M530.6,198.2h0 M504.4,198.9h0 M476.1,198.1h0 M557.3,178.3h0 M492.3,211.5h0 M526.1,201.2h0 M554.4,194.5h0 M537.4,205.2h0 M470.8,201.7h0 M530.0,202.3h0 M446.9,193.3h0 M486.6,199.8h0 M531.8,186.9h0 M547.6,187.7h0 M515.5,208.5h0 M459.1,205.3h0 M447.3,205.0h0 M495.7,195.8h0 M512.5,187.5h0 M570.7,190.9h0 M570.9,188.4h0 M528.7,209.6h0 M495.5,206.3h0 M449.5,193.6h0 M558.5,183.4h0 M501.7,206.7h0 M512.0,192.7h0 M566.9,212.2h0 M475.2,198.3h0 M502.2,213.0h0 M483.7,199.3h0 M565.1,179.5h0 M483.5,204.7h0 M446.5,190.6h0 M460.6,194.6h0 M551.6,192.3h0 M567.7,191.9h0 M522.3,210.8h0 M534.9,199.4h0 M538.5,186.5h0 M501.3,186.7h0 M520.7,187.4h0 M480.0,201.7h0 M455.2,208.2h0 M508.9,184.5h0 M459.1,196.1h0 M510.0,204.9h0 M493.0,192.1h0 M560.9,186.4h0 M477.7,208.8h0 M524.2,183.5h0 M550.1,198.2h0 M524.7,183.1h0 M504.6,204.6h0 M456.6,202.4h0 M457.7,194.7h0 M529.1,203.5h0 M569.8,191.2h0 M499.7,190.5h0 M535.2,205.7h0 M529.2,191.7h0 M518.6,196.4h0 M570.4,207.3h0 M553.9,185.0h0 M541.3,204.7h0 M567.0,209.6h0 M559.2,186.1h0 M547.2,194.7h0 M484.9,190.3h0 M548.7,210.0h0 M554.6,202.8h0 M518.4,183.8h0 M464.3,204.8h0 M473.3,210.2h0 M487.1,210.2h0 M501.1,190.8h0 M569.8,184.5h0 M457.0,204.5h0 M520.2,195.9h0 M571.1,190.4h0 M460.3,210.2h0 M446.8,204.5h0 M550.1,203.9h0 M516.0,208.7h0 M464.2,197.4h0 M478.8,191.6h0 M469.1,204.4h0 M519.1,207.3h0 M526.3,199.9h0 M564.8,208.7h0 M518.2,188.5h0 M565.5,190.4h0 M457.4,188.8h0 M536.5,213.6h0 M528.6,202.5h0 M566.8,207.3h0 M502.4,194.2h0 M543.5,188.2h0 M458.4,200.7h0 M550.0,185.3h0 M533.6,212.0h0 M508.6,188.9h0 M502.4,207.9h0 M526.8,182.2h0 M454.0,193.8h0 M446.3,195.0h0 M498.0,214.6h0 M498.2,210.3h0 M546.1,199.3h0 M475.2,187.7h0 M508.4,191.4h0 M528.6,196.0h0 M486.3,200.2h0 M499.4,209.7h0 M535.4,215.1h0 M553.6,199.3h0 M494.2,185.9h0" stroke="#c93f68" stroke-width="2.8" stroke-linecap="round" opacity="1.0"/>
<path d="M519.5,105.2h0 M510.7,130.0h0 M505.1,132.4h0 M461.4,158.5h0 M539.6,147.9h0 M463.0,147.9h0 M535.0,103.7h0 M548.4,153.2h0 M481.0,173.6h0 M477.7,146.2h0 M492.4,123.7h0 M535.3,149.3h0 M487.2,143.4h0 M554.0,145.3h0 M552.3,145.3h0 M501.5,144.2h0 M531.4,177.5h0 M519.8,138.2h0 M521.0,142.7h0 M529.0,175.8h0 M538.5,102.5h0 M522.6,164.0h0 M476.7,130.5h0 M475.4,156.4h0 M509.2,148.4h0 M486.5,146.9h0 M556.6,119.8h0 M507.8,130.9h0 M488.8,164.3h0 M469.6,144.7h0 M536.7,174.8h0 M505.2,174.9h0 M468.3,167.3h0 M494.5,143.8h0 M486.9,112.5h0 M465.0,124.3h0 M528.5,146.4h0 M463.6,164.1h0 M506.8,111.5h0 M541.9,165.7h0 M474.3,175.2h0 M540.8,118.3h0 M542.5,107.8h0 M535.8,161.9h0 M521.0,166.6h0 M560.3,126.2h0 M485.1,154.7h0 M526.6,167.9h0 M513.5,122.1h0 M478.2,143.4h0 M465.2,168.8h0 M549.6,119.4h0 M528.1,153.9h0 M463.6,162.3h0 M535.8,124.5h0 M461.0,122.5h0 M536.4,137.3h0 M541.3,112.8h0 M461.9,127.9h0 M548.5,112.9h0 M458.2,160.2h0 M460.2,153.4h0 M459.3,119.7h0 M524.3,169.9h0 M495.8,136.0h0 M453.5,127.3h0 M477.1,163.1h0 M530.0,162.8h0 M509.6,156.0h0 M464.2,130.8h0 M482.8,122.6h0 M532.8,117.1h0 M486.4,122.6h0 M546.8,151.1h0 M503.8,130.4h0 M500.4,145.3h0 M546.6,120.5h0 M479.0,108.2h0 M506.2,161.5h0 M467.5,134.6h0 M492.8,167.2h0 M549.9,130.1h0 M463.8,150.9h0 M532.9,173.9h0 M523.9,124.6h0 M507.7,123.0h0 M500.0,137.5h0 M553.7,138.2h0 M553.2,151.2h0 M547.7,133.1h0 M545.0,165.6h0 M491.9,166.3h0 M473.9,160.2h0 M502.5,132.9h0 M472.0,164.0h0 M531.9,107.1h0 M492.0,133.2h0 M514.6,171.2h0 M555.9,150.7h0 M490.9,108.6h0 M457.7,141.5h0 M515.3,135.8h0 M560.0,133.1h0 M489.3,133.4h0 M516.2,143.4h0 M497.7,120.0h0 M485.3,139.5h0 M500.0,178.3h0 M513.1,116.6h0 M488.7,162.6h0 M549.6,118.9h0 M537.4,135.3h0 M510.2,142.6h0 M524.8,155.1h0 M492.6,173.5h0 M541.8,124.2h0 M457.5,144.3h0 M523.3,118.0h0 M454.9,139.0h0 M520.1,122.3h0" stroke="#1ec030" stroke-width="2.8" stroke-linecap="round" opacity="1.0"/>
<path d="M470.2,62.8h0 M518.9,88.9h0 M498.3,74.3h0 M485.8,59.7h0 M481.9,92.0h0 M441.1,106.7h0 M450.3,98.1h0 M457.2,100.8h0 M483.6,74.0h0 M438.1,102.5h0 M484.3,100.4h0 M513.2,91.8h0 M469.8,98.8h0 M482.2,89.0h0 M508.5,87.6h0 M446.5,109.7h0 M511.2,96.1h0 M485.8,64.4h0 M488.1,78.1h0 M516.8,86.4h0 M474.2,69.7h0 M428.1,109.8h0 M492.1,53.1h0 M477.3,93.9h0 M481.3,58.6h0 M425.8,107.1h0 M491.1,53.2h0 M452.8,95.3h0 M465.4,100.1h0 M415.9,113.2h0 M461.9,103.8h0 M473.7,104.5h0 M501.4,76.6h0 M505.1,98.4h0 M531.2,93.9h0 M488.7,55.4h0 M424.1,114.7h0 M476.6,81.4h0 M472.1,92.6h0 M479.0,82.9h0" stroke="#3dbb47" stroke-width="2.6" stroke-linecap="round" opacity="1.0"/>
<path d="M383.8,129.1h0 M411.8,206.5h0 M376.6,181.7h0 M402.8,208.6h0 M374.1,156.0h0 M418.2,212.2h0 M411.4,204.9h0 M406.4,209.1h0 M397.5,182.6h0 M406.9,185.8h0 M396.0,206.3h0 M401.3,129.7h0 M391.4,165.4h0 M391.8,182.4h0 M387.1,161.7h0 M391.5,159.3h0 M389.4,168.8h0 M402.6,158.8h0 M421.5,228.6h0 M382.0,170.8h0 M422.8,216.0h0 M379.0,145.1h0 M409.7,211.2h0 M394.4,161.3h0 M420.8,218.7h0 M370.5,186.4h0 M393.7,131.7h0 M422.7,227.8h0 M404.2,126.2h0 M402.4,165.4h0" stroke="#3dbb47" stroke-width="2.6" stroke-linecap="round" opacity="1.0"/>
<path d="M428.7,123.3h0 M407.6,143.9h0 M422.1,142.2h0 M416.5,187.6h0 M423.5,122.3h0 M415.2,170.0h0 M424.8,143.9h0 M421.5,127.9h0 M410.9,169.5h0 M408.7,166.5h0 M404.6,136.4h0 M404.9,129.9h0 M403.5,131.9h0 M412.0,148.7h0 M429.9,149.6h0 M418.0,148.9h0 M430.5,196.0h0 M420.1,175.4h0 M414.0,137.3h0 M413.1,177.0h0 M417.4,161.0h0 M406.7,128.5h0 M412.1,175.4h0 M427.9,152.3h0 M400.9,136.2h0 M421.1,142.4h0 M408.4,139.1h0 M409.8,144.2h0 M431.2,185.3h0 M427.3,194.3h0 M425.5,122.6h0 M399.9,127.3h0 M408.8,161.1h0 M416.0,134.5h0 M433.6,122.9h0 M425.4,145.1h0 M435.3,139.6h0 M402.2,130.5h0 M425.0,175.4h0 M409.8,137.3h0 M412.7,129.4h0 M408.4,127.3h0 M424.4,173.1h0 M419.4,128.7h0 M434.7,122.3h0 M405.3,134.5h0 M419.6,156.3h0 M421.3,179.6h0 M404.0,168.0h0 M430.8,124.0h0 M426.9,122.1h0 M426.8,185.8h0 M415.2,126.4h0 M425.7,141.7h0 M403.6,127.3h0 M414.9,123.8h0 M414.2,163.3h0 M421.2,149.5h0 M431.6,120.2h0 M434.3,197.6h0 M430.1,161.8h0 M402.9,135.8h0 M411.5,149.9h0 M420.6,121.4h0 M427.6,186.0h0 M431.4,193.9h0 M411.3,125.5h0 M430.0,176.5h0 M413.6,143.9h0 M417.3,187.5h0 M412.3,141.9h0 M419.6,181.3h0 M427.1,149.5h0 M421.3,145.7h0 M431.6,140.4h0 M401.6,130.1h0 M421.3,162.2h0 M415.2,163.8h0 M402.3,124.9h0 M426.2,171.6h0 M430.7,126.2h0 M420.3,183.6h0 M404.6,161.1h0 M414.7,156.5h0 M430.9,175.3h0 M410.8,180.1h0 M418.4,186.2h0 M426.8,153.9h0 M421.6,186.9h0 M428.0,157.5h0" stroke="#3dbb47" stroke-width="2.8" stroke-linecap="round" opacity="1.0"/>
<path d="M557.5,221.8h0 M484.3,259.1h0 M553.7,236.6h0 M442.5,220.1h0 M446.9,249.6h0 M482.0,229.2h0 M500.0,217.2h0 M566.0,267.3h0 M515.9,241.3h0 M480.1,251.8h0 M572.7,260.0h0 M554.1,217.0h0 M453.7,234.8h0 M454.0,239.9h0 M573.1,226.6h0 M475.1,215.7h0 M511.5,231.8h0 M532.3,249.0h0 M521.4,231.8h0 M541.1,257.5h0 M538.1,243.1h0 M502.3,230.9h0 M524.1,224.3h0 M559.0,270.0h0 M558.1,265.9h0 M505.8,223.6h0 M474.8,260.7h0 M485.9,251.4h0 M484.3,272.0h0 M483.1,232.2h0 M520.3,266.5h0 M445.0,247.8h0 M512.5,275.2h0 M571.3,229.4h0 M516.2,235.8h0 M518.6,273.6h0 M571.4,269.9h0 M472.7,266.2h0 M571.0,228.8h0 M488.5,250.4h0 M469.8,258.8h0 M529.3,218.3h0 M535.6,235.0h0 M456.5,217.1h0 M501.6,264.4h0 M512.2,230.1h0 M510.1,276.8h0 M540.4,256.2h0 M556.5,239.0h0 M515.9,268.0h0 M464.5,268.7h0 M518.2,221.7h0 M567.8,241.0h0 M462.5,239.2h0 M520.6,240.3h0 M538.0,220.7h0 M472.5,265.3h0 M559.2,270.2h0 M543.9,251.5h0 M497.7,227.7h0 M520.1,276.7h0 M465.9,217.0h0 M535.3,219.1h0 M467.9,241.0h0 M577.0,233.4h0 M481.2,243.4h0 M459.2,238.6h0 M536.1,233.4h0 M549.9,224.2h0 M450.5,253.4h0 M500.8,272.6h0 M451.0,261.3h0 M531.8,236.4h0 M454.3,252.4h0 M544.4,243.2h0 M503.6,257.3h0 M523.1,239.9h0 M462.6,242.6h0 M514.6,271.2h0 M483.0,226.7h0" stroke="#c93f68" stroke-width="2.6" stroke-linecap="round" opacity="1.0"/>
<path d="M526.2,260.7h0 M471.4,257.6h0 M570.3,240.8h0 M529.3,269.2h0 M465.1,234.8h0 M479.8,243.4h0 M542.5,253.6h0 M569.0,256.2h0 M526.5,225.4h0 M558.4,239.3h0 M573.3,235.6h0 M524.7,247.8h0 M473.6,263.5h0 M481.9,270.2h0 M478.8,252.2h0 M551.7,219.2h0 M547.4,237.8h0 M511.0,239.8h0 M541.2,258.2h0 M456.2,214.3h0 M554.8,256.4h0 M526.2,232.6h0 M484.7,235.0h0 M565.1,265.8h0 M452.0,259.9h0 M551.7,264.1h0 M549.2,220.0h0 M437.9,218.1h0 M556.5,266.7h0 M509.8,227.5h0" stroke="#3dbb47" stroke-width="2.6" stroke-linecap="round" opacity="1.0"/>
<path d="M583.1,146.9h0 M580.3,161.8h0 M568.8,178.0h0 M580.7,177.3h0 M571.2,234.7h0 M568.4,249.3h0 M571.0,209.7h0 M561.3,230.8h0 M565.6,231.5h0 M566.1,209.4h0 M570.7,167.8h0 M564.0,251.6h0 M573.8,138.3h0 M568.2,205.9h0 M573.0,257.9h0 M575.6,219.6h0 M575.8,240.4h0 M566.0,222.5h0 M567.0,183.7h0 M568.8,188.3h0 M569.7,175.6h0 M560.5,247.7h0 M565.5,245.3h0 M573.5,208.9h0 M576.7,224.7h0 M560.4,247.8h0 M562.1,238.2h0 M565.4,250.9h0 M570.3,261.6h0 M567.0,210.7h0 M578.2,162.9h0 M581.5,155.9h0 M574.2,250.0h0 M580.3,159.5h0 M574.4,153.8h0 M575.3,214.5h0 M562.2,238.7h0 M566.5,212.8h0 M574.3,177.8h0 M571.4,206.0h0 M580.5,160.4h0 M575.3,191.8h0 M566.2,239.9h0 M566.0,229.8h0 M573.2,190.0h0 M581.6,167.1h0 M572.7,204.9h0 M564.6,192.4h0 M569.4,200.3h0 M574.3,184.6h0 M567.6,179.5h0 M568.6,234.4h0 M573.3,241.9h0 M570.8,184.2h0 M561.0,264.6h0 M574.4,211.8h0 M561.8,234.7h0 M570.1,220.4h0 M567.7,259.1h0 M570.0,168.7h0" stroke="#c93f68" stroke-width="2.6" stroke-linecap="round" opacity="1.0"/>
<path d="M394.2,197.3h0 M572.7,271.7h0 M519.1,80.0h0 M576.2,199.9h0 M443.1,228.3h0 M589.1,149.8h0 M391.0,197.3h0 M489.8,50.3h0 M501.1,48.3h0 M398.5,226.0h0 M576.6,256.9h0 M369.2,183.1h0 M511.2,333.3h0 M526.2,342.2h0 M498.1,54.0h0 M559.0,291.9h0 M577.8,260.8h0 M552.7,322.5h0 M373.5,172.2h0 M438.0,101.8h0 M559.3,87.4h0 M472.0,55.0h0 M392.1,199.8h0 M570.6,243.3h0 M499.6,81.5h0 M390.6,117.9h0 M439.8,265.7h0 M532.2,82.6h0 M424.6,109.4h0 M584.1,181.5h0 M454.5,292.7h0 M558.4,320.7h0 M575.4,240.4h0 M450.2,316.6h0 M426.9,111.6h0 M376.8,148.6h0 M471.8,54.9h0 M578.5,258.8h0 M469.0,67.9h0 M499.8,335.1h0 M400.0,120.0h0 M563.8,103.7h0 M468.8,65.1h0 M548.2,338.2h0 M503.7,336.1h0 M562.6,299.9h0 M466.4,340.8h0 M555.8,88.9h0 M592.1,152.3h0 M537.6,86.3h0 M580.9,165.7h0 M374.3,131.8h0 M529.5,343.6h0 M454.4,295.9h0 M600.3,115.9h0 M572.7,251.9h0 M554.7,94.5h0 M530.8,80.2h0 M588.0,158.9h0 M390.2,190.6h0 M442.2,97.6h0 M397.2,225.8h0 M577.9,228.4h0 M587.0,155.5h0 M530.1,341.5h0 M564.4,95.9h0 M543.8,338.0h0 M368.8,188.8h0 M573.4,104.0h0 M574.0,272.7h0 M504.4,75.5h0 M578.6,259.1h0 M460.6,91.1h0 M515.1,336.6h0 M406.9,114.8h0 M514.4,340.5h0 M383.4,190.4h0 M456.1,298.1h0 M472.7,338.6h0 M576.6,247.6h0 M489.6,50.1h0 M392.4,122.4h0 M362.0,158.4h0 M463.2,76.8h0 M600.2,135.6h0 M419.4,105.1h0 M385.5,189.6h0 M386.3,215.6h0 M574.0,279.0h0 M504.5,59.3h0 M384.5,191.7h0 M456.1,333.2h0 M571.5,103.2h0 M537.2,89.1h0 M463.2,339.9h0 M369.8,153.1h0 M604.5,115.4h0 M394.2,216.1h0 M446.8,301.5h0 M452.8,335.7h0 M451.3,313.8h0 M396.4,231.0h0 M446.6,298.3h0 M554.4,329.9h0 M424.2,111.9h0 M468.0,345.8h0 M584.6,97.9h0 M509.7,337.2h0 M408.6,234.4h0 M409.0,239.5h0 M592.7,160.8h0 M444.3,321.1h0 M396.7,209.1h0 M444.7,319.2h0 M562.3,100.8h0 M601.1,137.1h0 M369.5,152.5h0 M464.0,79.6h0 M571.7,283.1h0 M584.7,167.5h0 M431.4,100.8h0 M445.7,97.9h0 M576.6,184.6h0 M563.0,301.4h0 M607.0,128.8h0 M469.2,338.9h0 M449.0,93.9h0 M576.0,258.6h0 M485.8,341.7h0 M454.9,276.3h0 M372.8,144.3h0 M365.1,165.0h0 M424.2,229.4h0 M453.0,337.1h0 M605.5,123.0h0 M590.6,105.6h0 M434.3,103.8h0 M364.3,169.6h0 M394.2,228.8h0 M570.0,231.1h0 M573.9,100.4h0 M486.0,58.1h0 M435.3,218.8h0 M368.5,186.1h0 M420.2,108.1h0 M557.7,98.9h0 M574.8,226.3h0 M557.9,309.8h0 M504.8,78.9h0 M589.7,147.7h0" stroke="#c97a88" stroke-width="2.6" stroke-linecap="round" opacity="1.0"/>
<path d="M569.6,152.5h0 M601.0,117.4h0 M589.5,152.2h0 M598.6,127.9h0 M591.4,135.0h0 M574.9,151.0h0 M578.8,103.1h0 M587.1,102.7h0 M563.4,113.8h0 M591.2,108.5h0 M587.1,159.8h0 M570.5,149.3h0 M574.2,150.6h0 M607.2,123.7h0 M582.5,153.9h0 M562.6,120.6h0 M591.8,146.9h0 M578.8,98.9h0 M567.4,102.5h0 M562.3,105.2h0 M586.4,101.3h0 M579.3,150.3h0 M600.4,135.0h0 M605.2,117.4h0 M589.2,152.1h0 M586.3,159.7h0 M589.7,104.3h0 M608.7,121.5h0 M591.9,144.5h0 M586.9,110.3h0 M594.6,108.8h0 M572.0,96.9h0 M570.6,102.8h0 M598.6,126.8h0 M598.3,145.4h0 M585.6,156.5h0 M594.3,103.0h0 M599.9,124.0h0 M595.6,107.5h0 M585.0,103.4h0 M565.7,101.6h0 M586.5,152.5h0 M598.7,146.8h0 M594.1,140.6h0 M563.9,123.3h0 M603.4,131.4h0 M592.8,106.4h0 M569.9,142.1h0 M560.4,109.2h0 M605.3,125.1h0" stroke="#c93f68" stroke-width="2.6" stroke-linecap="round" opacity="1.0"/>
<path d="M595.9,131.6h0 M575.9,144.3h0 M597.7,123.2h0 M578.6,142.8h0 M590.8,128.1h0 M570.6,104.7h0 M595.4,136.0h0 M579.3,131.3h0 M586.0,151.6h0 M583.9,128.1h0 M581.7,120.7h0 M595.8,128.3h0 M576.6,102.6h0 M597.9,124.6h0 M575.8,126.6h0 M594.2,122.9h0 M574.2,146.9h0 M578.4,121.2h0 M570.5,124.8h0 M593.2,117.8h0 M591.1,125.4h0 M573.5,128.4h0 M563.0,108.8h0 M572.8,126.4h0 M568.2,114.6h0 M602.5,122.6h0 M571.0,131.4h0 M585.8,114.8h0 M595.0,132.5h0 M568.6,107.7h0 M573.3,123.9h0 M573.1,132.6h0 M577.6,124.3h0 M584.9,135.4h0 M567.6,115.0h0 M565.8,117.6h0 M576.3,139.5h0 M583.2,152.6h0 M586.6,127.3h0 M568.0,115.5h0 M570.3,108.3h0 M588.9,115.7h0 M596.1,130.0h0 M599.8,126.2h0 M589.7,110.7h0" stroke="#3dbb47" stroke-width="2.8" stroke-linecap="round" opacity="1.0"/>
<path d="M592.7,120.4h0 M593.9,130.6h0 M566.6,114.3h0 M589.7,128.4h0 M593.6,115.9h0 M582.4,124.5h0 M584.0,112.0h0 M587.7,111.9h0 M569.7,110.3h0 M602.1,117.9h0 M572.6,128.9h0 M584.4,125.5h0 M591.5,113.7h0 M601.6,114.5h0 M581.9,148.9h0 M594.5,135.6h0 M578.8,125.7h0 M583.9,109.4h0 M592.4,126.4h0 M586.9,135.4h0 M577.5,122.9h0 M591.9,108.0h0 M593.4,115.3h0 M587.3,136.8h0 M576.0,104.4h0" stroke="#f0e0e6" stroke-width="2.6" stroke-linecap="round" opacity="1.0"/>
<path d="M161.7,354.1h0 M181.2,270.6h0 M154.7,317.6h0 M171.9,270.5h0 M196.4,361.7h0 M160.9,326.8h0 M160.4,310.2h0 M160.9,342.0h0 M207.4,347.1h0 M194.3,321.9h0 M184.0,360.4h0 M198.7,344.9h0 M140.1,318.0h0 M157.0,335.9h0 M167.5,314.9h0 M179.1,333.2h0 M157.5,277.5h0 M205.8,387.0h0 M155.8,317.3h0 M190.9,273.3h0 M145.1,297.6h0 M201.0,368.4h0 M188.4,293.4h0 M190.1,283.9h0 M174.1,281.3h0 M206.4,339.0h0 M191.7,337.8h0 M198.9,323.1h0 M183.4,319.9h0 M196.9,325.6h0 M157.8,323.2h0 M177.7,372.1h0 M194.0,280.9h0 M176.7,332.5h0 M182.5,315.5h0 M176.8,347.0h0 M207.3,323.2h0 M199.3,345.8h0 M160.7,300.9h0 M175.3,292.6h0 M165.4,348.6h0 M186.6,384.3h0 M200.9,296.2h0 M169.1,300.3h0 M173.0,352.5h0 M208.3,378.5h0 M197.8,276.3h0 M151.5,299.0h0 M149.5,317.7h0 M168.7,286.1h0 M191.2,297.3h0 M196.8,373.2h0 M159.1,288.4h0 M192.1,272.2h0 M214.3,342.2h0 M180.0,259.1h0 M158.2,310.4h0 M183.5,262.7h0 M214.6,355.1h0 M201.6,355.4h0 M149.7,285.3h0 M199.7,291.4h0 M146.5,304.6h0 M199.7,327.1h0 M200.5,298.4h0 M194.3,322.0h0 M197.6,279.4h0 M157.9,281.2h0 M204.8,349.0h0 M193.9,346.4h0 M187.5,347.9h0 M177.6,341.8h0 M210.9,341.6h0 M177.3,358.1h0 M179.9,309.1h0 M162.5,306.4h0 M153.1,295.0h0 M196.3,374.2h0 M172.4,368.7h0 M145.3,323.2h0 M196.0,359.8h0 M166.8,275.2h0 M213.8,336.1h0 M188.6,299.7h0 M189.4,356.3h0 M181.7,355.9h0 M182.6,334.4h0 M192.8,352.2h0 M189.7,287.2h0 M174.9,358.0h0 M187.5,377.5h0 M178.8,262.2h0 M169.4,344.2h0 M176.8,361.8h0 M153.0,309.8h0 M193.0,381.3h0 M180.8,383.5h0 M170.0,342.7h0 M159.6,324.6h0 M174.2,303.4h0 M180.2,384.6h0 M179.2,301.4h0 M215.1,349.6h0 M184.5,287.4h0 M170.8,324.7h0 M166.0,329.9h0 M142.4,310.1h0 M176.5,356.0h0 M201.6,353.6h0 M166.3,350.2h0 M151.4,337.2h0 M149.4,300.6h0 M185.4,368.0h0 M199.0,341.4h0 M184.7,346.9h0 M149.7,330.4h0 M202.2,384.6h0 M190.2,312.8h0 M169.3,316.5h0 M157.9,276.0h0 M206.8,329.7h0 M208.6,375.7h0 M193.3,313.9h0 M155.0,329.9h0 M162.8,310.0h0 M178.1,329.8h0 M174.8,357.2h0 M210.6,338.0h0 M192.0,327.7h0 M145.7,315.4h0 M146.1,312.0h0 M153.7,282.0h0 M187.2,379.7h0 M182.7,319.2h0 M163.8,324.2h0 M201.5,361.6h0 M175.3,320.9h0 M175.3,314.6h0 M168.3,320.4h0 M177.6,275.2h0 M150.8,317.9h0 M174.6,282.1h0 M195.3,331.4h0 M145.7,291.4h0 M196.8,317.2h0 M151.9,287.1h0 M150.7,338.7h0 M183.8,323.5h0 M198.5,325.1h0 M160.8,344.3h0 M174.9,271.3h0 M196.3,311.5h0 M203.8,344.4h0 M213.7,332.0h0 M200.9,298.6h0 M211.5,343.3h0 M212.8,335.8h0 M196.2,334.2h0 M195.9,314.3h0 M145.2,329.1h0" stroke="#9b0c3e" stroke-width="2.6" stroke-linecap="round" opacity="1.0"/>
<path d="M116.4,259.6h0 M146.0,281.5h0 M139.8,293.7h0 M124.7,271.2h0 M124.5,265.4h0 M118.0,287.2h0 M136.7,291.2h0 M138.4,263.2h0 M124.6,260.3h0 M121.8,276.0h0 M129.1,261.5h0 M138.3,286.2h0 M122.7,296.2h0 M128.9,257.4h0 M135.3,274.7h0 M129.6,295.2h0 M119.0,300.1h0 M140.1,267.5h0 M128.9,291.6h0 M131.1,287.6h0 M120.1,280.7h0 M139.2,266.9h0 M121.4,275.8h0 M127.0,295.1h0 M116.6,261.0h0 M122.5,283.6h0 M127.9,288.4h0 M122.2,278.6h0 M132.0,271.7h0 M119.9,283.4h0 M111.9,273.3h0 M116.6,278.2h0 M136.9,275.3h0 M139.9,281.8h0 M127.0,290.2h0 M143.5,270.9h0 M125.6,274.1h0 M121.6,257.6h0 M137.1,282.0h0 M117.7,279.0h0" stroke="#9b0c3e" stroke-width="2.6" stroke-linecap="round" opacity="1.0"/>
<path d="M139.8,449.8h0 M168.7,440.1h0 M138.9,415.5h0 M188.8,440.1h0 M190.6,410.8h0 M174.7,426.0h0 M163.6,359.1h0 M135.6,428.7h0 M125.2,457.4h0 M144.5,427.1h0 M171.7,431.0h0 M138.5,424.3h0 M168.6,407.0h0 M183.8,420.7h0 M181.2,379.1h0 M174.7,416.7h0 M136.1,423.1h0 M140.2,442.3h0 M189.6,391.3h0 M173.0,419.5h0 M186.1,438.8h0 M147.9,455.0h0 M164.2,454.3h0 M178.0,361.5h0 M161.3,389.8h0 M169.1,359.7h0 M179.1,379.0h0 M190.0,383.9h0 M166.0,431.6h0 M173.8,431.8h0 M143.5,434.3h0 M179.9,389.3h0 M165.7,348.7h0 M177.4,438.4h0 M185.8,402.2h0 M175.0,358.3h0 M175.3,418.9h0 M184.9,388.0h0 M159.7,408.9h0 M156.7,443.5h0 M163.2,365.5h0 M163.9,366.3h0 M159.1,431.5h0 M116.7,433.7h0 M165.4,357.2h0 M110.3,446.4h0 M176.3,401.4h0 M160.1,381.7h0 M167.0,379.5h0 M142.2,432.5h0 M169.2,452.4h0 M138.1,425.2h0 M150.7,331.3h0 M166.1,407.7h0 M189.7,438.3h0 M180.0,363.5h0 M148.2,450.3h0 M122.8,433.8h0 M153.3,426.9h0 M173.3,418.1h0 M193.9,414.4h0 M149.1,425.5h0 M143.5,455.2h0 M155.5,393.6h0 M147.2,429.6h0 M171.7,429.7h0 M156.2,393.0h0 M186.1,388.8h0 M175.1,417.4h0 M163.8,444.6h0 M154.7,341.5h0 M176.6,377.3h0 M173.2,443.5h0 M190.1,434.5h0 M137.8,454.0h0 M170.3,369.7h0 M131.9,450.0h0 M144.4,453.8h0 M179.7,394.9h0 M131.3,432.1h0 M145.2,455.4h0 M157.6,449.2h0 M170.4,415.6h0 M170.1,420.8h0 M114.2,434.3h0 M143.9,457.3h0 M174.5,368.8h0 M162.3,436.4h0 M170.0,403.0h0 M181.1,428.7h0 M164.0,430.2h0 M116.0,449.6h0 M133.4,448.2h0 M152.3,448.7h0 M133.2,441.2h0 M173.4,390.8h0 M175.9,387.1h0 M165.7,356.1h0 M141.2,430.4h0 M184.7,418.6h0 M180.9,375.8h0 M147.8,324.0h0 M164.6,402.4h0 M156.7,398.1h0 M184.3,398.4h0 M114.2,433.4h0 M111.8,431.3h0 M176.3,380.9h0 M116.5,442.3h0 M157.3,395.0h0 M139.4,417.1h0 M179.1,410.4h0 M170.4,374.0h0 M154.8,433.1h0 M134.4,419.8h0 M172.6,366.9h0 M171.3,389.9h0 M195.8,392.8h0 M181.3,366.9h0 M154.0,324.6h0" stroke="#9b0c3e" stroke-width="2.8" stroke-linecap="round" opacity="1.0"/>
<path d="M163.5,363.7h0 M180.6,387.1h0 M119.3,434.6h0 M187.7,431.4h0 M142.3,456.1h0 M189.6,406.6h0 M160.9,365.5h0 M172.7,371.1h0 M172.5,438.7h0 M131.6,439.4h0 M175.8,380.7h0 M158.7,338.1h0 M157.2,387.0h0 M188.3,395.4h0 M176.4,362.8h0 M158.5,444.5h0 M170.4,443.5h0 M148.8,424.9h0 M172.4,444.4h0 M143.7,312.2h0 M172.9,378.3h0 M148.1,439.5h0 M181.5,385.3h0 M109.2,437.9h0 M159.1,399.4h0 M146.7,440.4h0 M178.6,376.8h0 M182.4,369.7h0 M144.0,435.5h0 M192.8,410.1h0 M156.1,344.1h0 M193.4,410.2h0 M183.1,390.4h0 M183.9,401.9h0 M166.2,349.4h0 M177.2,384.2h0 M134.8,456.7h0 M178.1,407.9h0 M184.6,410.6h0 M140.9,451.0h0 M191.0,406.7h0 M108.4,440.7h0 M183.8,394.8h0 M148.7,427.4h0 M184.2,375.1h0 M159.0,336.7h0 M166.0,401.7h0 M182.1,426.2h0 M185.7,400.6h0 M162.0,368.4h0 M183.0,385.2h0 M168.6,432.2h0 M142.9,421.5h0 M169.6,385.3h0 M161.7,383.8h0 M173.1,361.0h0 M171.2,410.9h0 M143.2,449.8h0 M174.8,409.0h0 M172.7,387.4h0 M166.9,431.1h0 M167.9,400.7h0 M117.4,450.4h0 M177.1,441.8h0 M131.3,431.4h0 M175.1,387.3h0 M142.6,312.2h0 M141.8,419.2h0 M155.7,441.8h0 M181.9,367.3h0 M146.6,438.9h0 M155.8,403.1h0 M144.5,431.7h0 M157.4,415.4h0 M159.0,410.8h0 M107.9,437.6h0 M152.8,452.8h0 M177.9,374.0h0 M175.9,382.1h0 M175.2,379.1h0 M159.8,367.6h0 M158.5,389.1h0 M161.2,422.9h0 M107.1,433.1h0 M154.3,340.1h0 M164.9,364.9h0 M177.2,415.4h0 M192.5,406.3h0 M163.0,361.0h0 M170.5,420.6h0 M145.7,446.6h0 M151.0,324.5h0 M143.2,412.8h0 M132.3,447.8h0 M188.0,430.6h0 M162.4,367.1h0 M121.7,426.8h0 M177.1,370.2h0 M157.7,423.3h0 M171.4,431.7h0 M190.5,432.0h0 M144.6,432.0h0 M156.8,335.0h0 M172.1,389.2h0 M173.5,445.0h0 M159.7,349.6h0 M162.1,386.5h0 M156.4,394.5h0 M164.0,440.1h0 M162.4,422.4h0 M115.1,438.2h0 M193.3,394.2h0 M183.5,387.8h0 M150.1,413.3h0 M180.3,441.4h0 M153.7,449.4h0 M122.4,434.9h0 M154.0,422.5h0 M125.5,451.1h0 M161.1,407.5h0" stroke="#6a7cd0" stroke-width="2.6" stroke-linecap="round" opacity="1.0"/>
<path d="M127.5,419.8h0 M122.2,343.7h0 M110.7,349.6h0 M150.4,334.9h0 M134.9,372.5h0 M101.6,418.3h0 M94.1,390.2h0 M135.0,345.6h0 M88.0,376.2h0 M105.9,370.2h0 M82.1,405.9h0 M96.6,353.7h0 M146.4,338.1h0 M107.1,424.0h0 M95.8,349.1h0 M141.3,373.3h0 M153.3,354.7h0 M115.0,319.3h0 M100.8,413.3h0 M99.7,416.2h0 M143.9,372.8h0 M88.0,407.1h0 M101.3,421.6h0 M114.3,345.9h0 M133.8,335.0h0 M125.0,338.8h0 M96.0,413.6h0 M128.9,368.8h0 M96.0,408.5h0 M108.4,369.3h0 M112.2,401.6h0 M115.2,369.4h0 M120.7,376.7h0 M146.9,340.5h0 M157.7,372.1h0 M106.0,383.5h0 M138.0,387.5h0 M133.5,348.2h0 M136.8,343.8h0 M123.6,319.6h0 M101.4,336.6h0 M108.7,352.4h0 M157.9,367.0h0 M123.2,350.3h0 M123.1,405.3h0 M121.0,365.1h0 M107.0,321.6h0 M112.3,373.2h0 M87.8,397.5h0 M115.3,380.0h0 M113.5,402.7h0 M133.9,313.1h0 M123.2,332.2h0 M139.3,346.3h0 M98.9,420.8h0 M113.7,387.5h0 M100.4,379.5h0 M100.3,415.3h0 M126.3,350.1h0 M96.1,379.0h0" stroke="#7d87c0" stroke-width="2.4" stroke-linecap="round" opacity="1.0"/>
<path d="M153.8,467.6h0 M159.3,467.1h0 M175.6,450.4h0 M203.8,411.2h0 M204.1,444.2h0 M155.0,461.7h0 M127.3,465.1h0 M206.2,415.5h0 M186.8,451.2h0 M196.8,442.8h0 M194.7,437.5h0 M193.5,456.0h0 M205.1,399.5h0 M187.0,449.8h0 M206.0,435.8h0 M203.4,418.9h0 M193.9,432.9h0 M205.7,397.9h0 M112.8,455.2h0 M201.5,424.4h0 M152.7,472.1h0 M202.2,410.1h0 M197.1,437.6h0 M140.1,465.4h0 M174.5,452.8h0 M210.4,399.3h0 M191.2,458.8h0 M214.0,418.1h0 M213.9,376.3h0 M192.4,447.3h0 M104.8,450.5h0 M211.5,435.3h0 M166.0,461.7h0 M146.1,466.7h0 M207.3,445.8h0 M116.6,459.4h0 M161.6,469.8h0 M213.0,408.9h0 M205.1,442.5h0 M132.0,472.8h0" stroke="#9b0c3e" stroke-width="2.4" stroke-linecap="round" opacity="1.0"/>
<path d="M152.0,394.7h0 M104.7,386.8h0 M187.5,406.7h0 M184.2,419.5h0 M205.2,342.0h0 M144.9,482.0h0 M115.1,352.5h0 M200.0,433.8h0 M188.1,365.2h0 M112.5,356.7h0 M192.9,527.0h0 M175.2,290.7h0 M117.9,425.1h0 M140.2,294.2h0 M92.9,397.5h0 M128.5,390.5h0 M150.4,490.2h0 M163.1,281.3h0 M169.1,267.7h0 M154.6,295.5h0 M118.4,278.8h0 M175.2,480.1h0 M142.9,414.4h0 M126.3,483.7h0 M176.9,266.3h0 M179.5,284.7h0 M147.5,297.3h0 M148.0,435.8h0 M183.7,338.9h0 M86.3,375.6h0" stroke="#eba322" stroke-width="2.4" stroke-linecap="round" opacity="1.0"/>
<path d="M105.1,309.8h0 M82.0,418.2h0 M110.5,274.0h0 M194.0,270.5h0 M157.1,520.7h0 M219.0,419.4h0 M176.9,257.4h0 M212.5,468.6h0 M129.8,530.0h0 M103.4,467.4h0 M107.2,513.6h0 M112.1,521.7h0 M101.7,457.4h0 M206.6,320.4h0 M92.2,432.4h0 M211.4,313.8h0 M101.1,332.2h0 M220.1,488.3h0 M119.0,250.0h0 M134.3,262.7h0 M87.1,355.7h0 M110.6,312.2h0 M159.5,521.9h0 M138.6,526.0h0 M105.3,320.3h0 M87.4,363.3h0 M158.9,523.9h0 M84.0,355.2h0 M212.1,384.7h0 M99.8,329.3h0 M110.0,521.1h0 M195.8,529.2h0 M134.7,257.3h0 M87.7,369.2h0 M205.1,313.7h0 M186.0,252.9h0 M94.7,432.5h0 M218.0,355.1h0 M108.7,499.7h0 M116.4,519.4h0 M146.2,261.9h0 M213.6,307.7h0 M219.9,431.8h0 M146.0,265.4h0 M205.0,285.6h0 M105.5,259.5h0 M96.1,441.5h0 M196.9,258.5h0 M184.4,523.2h0 M218.2,354.0h0 M213.5,374.2h0 M81.4,402.7h0 M130.9,247.5h0 M89.2,432.3h0 M115.2,521.0h0 M102.5,480.7h0 M139.8,525.5h0 M212.7,320.1h0 M212.5,306.7h0 M193.6,259.7h0 M89.6,406.7h0 M205.1,307.4h0 M219.4,415.4h0 M116.9,529.2h0 M210.2,379.0h0 M81.2,375.8h0 M212.8,315.0h0 M100.8,457.6h0 M206.5,537.1h0 M136.9,531.6h0 M208.1,321.3h0 M212.5,324.5h0 M143.2,260.5h0 M77.1,373.5h0 M103.0,495.7h0 M140.0,525.5h0 M217.9,339.3h0 M213.0,468.2h0 M79.2,380.6h0 M83.6,374.0h0 M211.6,308.8h0 M211.5,313.3h0 M82.8,386.8h0 M160.1,272.6h0 M212.2,454.5h0 M183.1,523.8h0 M180.4,249.2h0 M133.3,257.5h0 M211.2,363.2h0 M217.3,363.0h0 M81.4,391.1h0 M76.5,387.4h0 M114.4,290.4h0 M212.1,390.3h0 M82.1,363.1h0 M193.0,530.5h0 M191.4,260.3h0 M173.2,264.1h0 M75.5,399.9h0 M217.1,328.0h0 M215.0,469.8h0 M100.9,245.7h0 M78.1,377.0h0 M214.9,534.0h0 M82.6,421.8h0 M219.5,395.9h0 M83.4,412.7h0 M199.7,289.6h0 M78.7,407.1h0 M210.2,288.6h0 M117.7,250.5h0 M98.0,467.7h0 M112.5,301.5h0 M186.2,253.3h0 M107.0,272.6h0 M146.7,262.0h0 M86.4,422.9h0 M190.2,261.9h0 M160.4,521.5h0 M187.5,258.3h0" stroke="#6a78c8" stroke-width="2.4" stroke-linecap="round" opacity="1.0"/>
<path d="M344.6,448.1h0 M295.4,393.8h0 M286.3,481.4h0 M324.5,398.7h0 M345.0,453.8h0 M253.9,398.0h0 M294.2,397.6h0 M331.2,405.9h0 M295.0,487.2h0 M309.4,396.9h0 M276.4,454.4h0 M264.4,415.9h0 M336.4,459.7h0 M287.7,467.9h0 M358.9,398.6h0 M265.4,424.3h0 M264.0,406.7h0 M310.9,404.6h0 M350.8,426.5h0 M354.1,413.3h0 M348.1,454.0h0 M266.4,401.2h0 M269.4,392.2h0 M272.8,438.8h0 M277.9,461.8h0 M292.9,397.8h0 M288.4,477.1h0 M273.2,444.3h0 M356.8,409.9h0 M277.8,395.9h0 M266.6,390.9h0 M348.1,447.6h0 M257.1,415.5h0 M338.6,469.9h0 M353.6,428.3h0 M277.1,449.7h0 M303.6,393.3h0 M342.1,402.4h0 M326.6,407.3h0 M266.1,413.2h0 M303.6,402.7h0 M349.3,443.0h0 M334.0,406.4h0 M313.1,401.1h0 M258.9,387.4h0 M347.7,453.1h0 M352.6,406.3h0 M359.4,407.5h0 M303.8,403.4h0 M287.7,397.1h0 M339.1,462.0h0 M284.8,464.2h0 M331.3,403.2h0 M352.8,423.0h0 M318.4,398.0h0 M275.0,433.0h0 M332.1,400.0h0 M319.7,476.1h0 M355.9,437.3h0 M264.6,408.0h0 M281.8,394.3h0 M340.1,464.9h0 M336.7,401.6h0 M312.8,413.8h0 M261.3,410.4h0 M278.6,434.7h0 M354.2,424.5h0 M258.5,403.2h0 M311.3,400.8h0 M326.0,467.8h0 M344.4,439.3h0 M339.7,443.1h0 M273.7,424.5h0 M284.2,484.0h0 M331.6,402.9h0 M277.7,448.7h0 M295.0,403.3h0 M279.7,459.2h0 M316.3,473.6h0 M342.8,405.4h0" stroke="#0c45a8" stroke-width="2.6" stroke-linecap="round" opacity="1.0"/>
<path d="M331.9,522.4h0 M325.1,511.5h0 M336.0,506.0h0 M306.8,495.5h0 M303.7,499.2h0 M339.3,520.7h0 M318.9,504.5h0 M323.4,509.2h0 M316.9,494.8h0 M325.6,513.3h0 M340.1,516.7h0 M342.2,522.4h0 M302.1,486.8h0 M315.5,498.7h0 M309.3,490.6h0 M316.2,509.0h0 M335.8,511.9h0 M338.1,516.1h0 M330.8,514.8h0 M318.5,499.5h0 M324.0,494.4h0 M329.6,522.0h0 M304.4,490.5h0 M315.5,508.3h0 M322.9,500.8h0 M316.1,502.8h0 M330.6,501.6h0 M345.5,525.0h0 M338.4,520.1h0 M314.9,498.9h0 M333.4,514.3h0 M332.3,511.6h0 M310.6,490.0h0 M305.4,496.0h0 M305.6,495.2h0 M299.1,491.9h0 M341.9,519.4h0 M301.0,489.9h0 M320.6,499.1h0 M328.0,511.1h0" stroke="#0c45a8" stroke-width="2.4" stroke-linecap="round"/>
<path d="M290.1,508.7h0 M289.3,516.0h0 M289.6,506.5h0 M281.9,491.9h0 M287.8,502.7h0 M286.8,501.7h0 M291.1,504.5h0 M285.7,498.9h0 M290.7,520.5h0 M286.3,513.3h0 M283.8,488.7h0 M285.4,491.6h0 M282.3,493.6h0 M283.6,498.6h0 M285.8,498.7h0 M283.6,488.7h0 M286.0,510.1h0 M284.4,502.1h0 M284.8,507.7h0 M286.1,505.2h0 M291.4,496.3h0 M282.8,495.7h0 M293.8,520.9h0 M278.9,486.2h0 M284.2,488.4h0" stroke="#0c45a8" stroke-width="2.4" stroke-linecap="round"/>
<path d="M312.6,503.8h0 M309.4,498.5h0 M316.1,512.0h0 M321.7,511.7h0 M320.6,504.8h0 M317.8,513.6h0 M319.0,510.5h0 M329.1,521.9h0 M304.2,496.3h0 M307.1,491.2h0 M308.3,485.6h0 M319.0,507.2h0 M315.6,501.2h0 M313.0,507.5h0 M312.3,508.8h0 M311.0,496.2h0 M302.5,481.8h0 M319.6,525.9h0 M307.6,499.4h0 M321.7,502.0h0 M313.1,494.5h0 M319.7,515.1h0 M316.0,495.9h0 M313.5,498.9h0 M317.3,512.0h0 M325.2,513.1h0 M303.4,484.9h0 M311.9,487.5h0 M315.3,510.2h0 M313.2,497.6h0" stroke="#0c45a8" stroke-width="2.4" stroke-linecap="round"/>
<path d="M335.0,593.1h0 M332.1,579.2h0 M342.3,599.4h0 M328.8,577.2h0 M345.7,604.6h0 M344.6,600.6h0 M351.6,607.6h0 M332.2,581.8h0 M348.9,598.3h0 M340.6,580.0h0" stroke="#0c45a8" stroke-width="2.4" stroke-linecap="round"/>
<path d="M270.0,383.2h0 M345.2,385.0h0 M321.2,390.5h0 M306.1,390.1h0 M328.3,387.4h0 M268.5,383.9h0 M339.0,394.5h0 M293.0,389.5h0 M286.3,386.0h0 M272.2,384.6h0 M297.7,388.5h0 M300.2,389.6h0 M294.2,384.3h0 M319.9,387.3h0 M252.7,384.2h0 M305.7,392.3h0 M314.7,392.3h0 M271.6,382.0h0 M255.5,376.0h0 M351.1,387.2h0 M296.2,395.1h0 M291.6,389.3h0 M307.4,379.7h0 M270.7,392.6h0 M275.3,378.1h0" stroke="#0c45a8" stroke-width="2.4" stroke-linecap="round"/>
<path d="M403.2,713.3h0 M379.9,722.5h0 M406.7,700.8h0 M394.6,714.2h0 M401.4,701.4h0 M362.1,679.2h0 M351.1,706.1h0 M386.8,656.2h0 M389.2,650.1h0 M362.3,681.9h0 M393.6,682.2h0 M394.9,718.4h0 M399.0,723.1h0 M351.8,690.0h0 M345.6,702.0h0 M354.0,699.4h0 M349.0,685.6h0 M391.1,659.5h0 M396.1,685.1h0 M354.8,681.9h0 M371.0,666.7h0 M380.4,647.4h0 M402.2,692.9h0 M380.0,659.6h0 M349.3,705.2h0 M361.8,682.6h0 M353.6,689.2h0 M390.8,653.3h0 M385.3,650.6h0 M398.6,693.2h0 M349.8,700.2h0 M402.7,710.2h0 M397.6,677.2h0 M401.0,711.6h0 M349.9,694.0h0 M365.9,683.1h0 M346.5,689.5h0 M375.5,660.3h0 M364.8,719.0h0 M398.7,691.3h0 M392.5,710.7h0 M400.6,716.4h0 M396.1,696.8h0 M404.2,695.9h0 M394.2,674.7h0 M398.5,680.9h0 M364.9,685.4h0 M358.7,711.7h0 M398.0,682.1h0 M395.3,692.2h0 M353.4,681.0h0 M365.9,663.7h0 M356.0,710.6h0 M381.2,720.3h0 M382.1,658.7h0 M399.3,698.6h0 M384.1,653.1h0 M389.2,675.0h0 M404.7,707.1h0 M399.0,712.1h0" stroke="#93dbcb" stroke-width="2.6" stroke-linecap="round" opacity="1.0"/>
<path d="M432.3,774.3h0 M408.4,749.0h0 M440.7,785.8h0 M418.5,745.8h0 M436.6,791.5h0 M412.3,769.8h0 M414.7,735.1h0 M414.8,764.3h0 M424.7,769.7h0 M411.2,743.4h0 M448.2,791.6h0 M420.0,728.2h0 M410.8,722.9h0 M442.3,801.6h0 M395.8,720.3h0 M446.4,805.0h0 M420.5,737.6h0 M440.8,791.8h0 M413.5,745.8h0 M409.6,757.2h0 M392.0,722.4h0 M406.3,729.9h0 M444.1,792.5h0 M418.9,748.6h0 M414.3,742.4h0 M443.6,802.7h0 M440.3,782.1h0 M441.5,793.7h0 M408.4,717.1h0 M418.1,745.5h0 M407.7,743.7h0 M413.3,738.6h0 M419.1,750.3h0 M440.5,790.4h0 M413.5,749.9h0 M461.6,799.3h0 M418.4,742.0h0 M412.1,718.1h0 M419.5,750.9h0 M448.1,783.0h0 M403.1,734.6h0 M398.3,727.0h0 M454.8,786.7h0 M421.8,756.9h0 M416.5,756.4h0 M434.8,739.8h0 M440.6,774.8h0 M405.1,735.9h0 M436.7,766.2h0 M438.2,785.0h0 M417.3,772.0h0 M433.6,789.8h0 M428.8,777.8h0 M450.3,787.6h0 M456.5,808.6h0 M425.9,768.2h0 M432.0,764.1h0 M449.5,791.7h0 M421.3,765.7h0 M404.1,747.9h0 M449.8,785.0h0 M431.8,763.7h0 M431.6,767.3h0 M450.7,778.6h0 M406.7,728.4h0 M403.2,739.8h0 M406.9,737.5h0 M444.0,775.6h0 M416.1,752.8h0 M435.8,776.6h0 M426.7,759.1h0 M402.5,721.3h0 M444.8,795.2h0 M448.8,772.1h0 M406.0,726.6h0 M392.3,739.0h0 M398.2,715.2h0 M438.9,791.6h0 M450.9,795.1h0 M418.7,746.3h0 M451.1,801.4h0 M409.4,732.5h0 M423.7,771.4h0 M449.5,816.1h0 M430.4,761.5h0 M448.4,792.0h0 M417.4,732.8h0 M458.1,791.4h0 M442.6,789.8h0 M437.9,779.3h0" stroke="#babdd6" stroke-width="2.4" stroke-linecap="round"/>
<path d="M365.2,650.4h0 M385.2,650.8h0 M394.9,661.7h0 M374.9,657.0h0 M389.0,652.3h0 M377.8,657.4h0 M384.1,658.5h0 M388.8,654.1h0 M368.1,635.6h0 M386.4,650.2h0 M363.8,645.2h0 M374.2,643.3h0 M384.1,653.7h0 M382.7,644.9h0 M379.4,644.6h0" stroke="#93dbcb" stroke-width="2.4" stroke-linecap="round"/>
<path d="M404.1,804.1h0 M402.8,859.3h0 M411.9,873.1h0 M459.1,859.6h0 M415.4,877.0h0 M420.0,811.3h0 M417.1,810.6h0 M397.8,856.7h0 M444.7,880.0h0 M459.4,887.2h0 M462.2,874.1h0 M420.9,874.1h0 M421.3,815.2h0 M401.1,873.2h0 M409.9,810.6h0 M407.6,802.6h0 M460.9,875.5h0 M427.8,813.9h0 M458.8,878.8h0 M435.4,821.3h0 M401.4,869.1h0 M461.2,859.1h0 M455.2,838.6h0 M422.5,831.9h0 M412.3,838.5h0 M458.1,844.7h0 M449.4,888.8h0 M423.7,820.4h0 M410.8,849.8h0 M401.8,804.8h0 M429.9,869.8h0 M419.6,808.2h0 M408.9,802.7h0 M451.3,890.3h0 M435.4,878.7h0 M442.7,886.9h0 M437.9,822.7h0 M404.8,857.7h0 M400.5,803.0h0 M420.6,873.4h0 M408.3,873.8h0 M402.6,872.7h0 M403.3,857.4h0 M405.6,800.3h0 M412.8,818.8h0 M405.6,806.0h0 M443.3,820.0h0 M416.9,875.9h0 M429.8,825.0h0 M449.3,840.1h0 M395.7,796.8h0 M402.5,869.2h0 M462.9,869.5h0 M428.5,878.8h0 M408.4,853.1h0 M423.6,872.8h0 M396.5,799.2h0 M439.9,817.8h0 M423.1,814.0h0 M404.0,851.2h0" stroke="#b9bdd6" stroke-width="2.6" stroke-linecap="round" opacity="1.0"/>
<path d="M256.6,382.0h0 M223.0,375.4h0 M265.1,389.6h0 M259.9,388.7h0 M209.7,362.2h0 M239.8,377.9h0 M223.2,368.7h0 M249.8,377.1h0 M265.0,389.5h0 M219.3,369.7h0 M244.4,386.3h0 M232.4,375.8h0 M238.5,369.9h0 M263.3,387.0h0 M243.4,373.1h0 M224.8,378.0h0 M221.4,373.1h0 M248.8,387.0h0 M239.0,376.8h0 M246.2,376.3h0 M225.7,365.7h0 M234.9,383.6h0 M267.2,397.9h0 M227.5,381.1h0 M241.7,372.9h0 M270.5,394.7h0 M223.6,357.8h0 M231.2,382.5h0 M237.3,379.2h0 M272.1,386.8h0" stroke="#7e87c0" stroke-width="2.4" stroke-linecap="round"/>
<path d="M253.6,383.1h0 M224.0,366.2h0 M236.5,384.4h0 M232.6,380.7h0 M264.2,398.7h0 M244.9,383.1h0 M234.9,375.6h0 M233.2,374.7h0 M261.2,392.7h0 M240.6,380.8h0" stroke="#eba322" stroke-width="2.4" stroke-linecap="round"/>
<path d="M585.5,407.8h0 M601.8,398.0h0 M598.8,404.7h0 M594.2,392.7h0 M545.4,379.0h0 M552.3,402.2h0 M572.3,395.3h0 M586.0,418.7h0 M586.3,414.6h0 M583.8,395.0h0 M557.6,396.5h0 M610.1,423.4h0 M573.5,395.5h0 M605.8,420.6h0 M571.2,387.7h0 M585.6,398.6h0 M583.3,394.4h0 M594.4,424.0h0 M555.7,387.8h0 M592.3,405.0h0" stroke="#1ccdb9" stroke-width="2.4" stroke-linecap="round"/>
<path d="M534.7,340.1h0 M534.3,348.1h0 M533.7,336.9h0 M541.0,347.1h0 M535.0,362.1h0 M518.5,335.2h0 M545.8,354.3h0 M531.7,350.6h0 M520.8,344.0h0 M543.7,350.5h0 M537.1,353.0h0 M519.1,341.0h0 M529.0,344.1h0 M530.4,350.8h0 M543.4,358.9h0" stroke="#edbb95" stroke-width="2.4" stroke-linecap="round"/>
<text x="21.3" y="63.2" font-size="50" text-anchor="start" font-family="Liberation Sans, sans-serif" fill="#000" stroke="#000" stroke-width="0.3" >A</text>
<text x="239.5" y="93" font-size="28.3" text-anchor="start" font-family="Liberation Sans, sans-serif" fill="#000" stroke="#000" stroke-width="0.3" >DC1</text>
<text x="350" y="106" font-size="28.3" text-anchor="start" font-family="Liberation Sans, sans-serif" fill="#000" stroke="#000" stroke-width="0.3" >DC2</text>
<text x="509.5" y="49.7" font-size="31" text-anchor="start" font-family="Liberation Sans, sans-serif" fill="#000" stroke="#000" stroke-width="0.3" >MoAM-1</text>
<text x="604.5" y="100.4" font-size="31.7" text-anchor="start" font-family="Liberation Sans, sans-serif" fill="#000" stroke="#000" stroke-width="0.3" >MoAM-2</text>
<text x="461" y="140.8" font-size="31.7" text-anchor="start" font-family="Liberation Sans, sans-serif" fill="#fff" stroke="#fff" stroke-width="2.6" stroke-linejoin="round" opacity="0.75" >MoAM-3</text>
<text x="461" y="140.8" font-size="31.7" text-anchor="start" font-family="Liberation Sans, sans-serif" fill="#000" stroke="#000" stroke-width="0.3" >MoAM-3</text>
<text x="420.5" y="179" font-size="31.5" text-anchor="start" font-family="Liberation Sans, sans-serif" fill="#fff" stroke="#fff" stroke-width="2.6" stroke-linejoin="round" opacity="0.75" >MoAM-4</text>
<text x="420.5" y="179" font-size="31.5" text-anchor="start" font-family="Liberation Sans, sans-serif" fill="#000" stroke="#000" stroke-width="0.3" >MoAM-4</text>
<text x="716" y="155.5" font-size="31.8" text-anchor="start" font-family="Liberation Sans, sans-serif" fill="#000" stroke="#000" stroke-width="0.3" >TRAM-3</text>
<text x="178" y="193.6" font-size="24.2" text-anchor="start" font-family="Liberation Sans, sans-serif" fill="#000" stroke="#000" stroke-width="0.3" >Migratory DC</text>
<text x="41.5" y="232.2" font-size="28.5" text-anchor="start" font-family="Liberation Sans, sans-serif" fill="#000" stroke="#000" stroke-width="0.3" >Tregs</text>
<text x="278" y="245.4" font-size="24.5" text-anchor="start" font-family="Liberation Sans, sans-serif" fill="#000" stroke="#000" stroke-width="0.3" >pDC</text>
<text x="446" y="256" font-size="32.2" text-anchor="start" font-family="Liberation Sans, sans-serif" fill="#fff" stroke="#fff" stroke-width="2.6" stroke-linejoin="round" opacity="0.75" >MoAM-5</text>
<text x="446" y="256" font-size="32.2" text-anchor="start" font-family="Liberation Sans, sans-serif" fill="#000" stroke="#000" stroke-width="0.3" >MoAM-5</text>
<text x="460.5" y="309" font-size="32.2" text-anchor="start" font-family="Liberation Sans, sans-serif" fill="#fff" stroke="#fff" stroke-width="2.6" stroke-linejoin="round" opacity="0.75" >MoAM-6</text>
<text x="460.5" y="309" font-size="32.2" text-anchor="start" font-family="Liberation Sans, sans-serif" fill="#000" stroke="#000" stroke-width="0.3" >MoAM-6</text>
<text x="440.5" y="308.2" font-size="24.1" text-anchor="end" font-family="Liberation Sans, sans-serif" fill="#000" stroke="#000" stroke-width="0.3" >Perivascular</text>
<text x="440.5" y="332" font-size="24.1" text-anchor="end" font-family="Liberation Sans, sans-serif" fill="#000" stroke="#000" stroke-width="0.3" >macrophages</text>
<text x="93.8" y="288.8" font-size="24.1" text-anchor="end" font-family="Liberation Sans, sans-serif" fill="#000" stroke="#000" stroke-width="0.3" >Effector</text>
<text x="93.8" y="312.5" font-size="24.1" text-anchor="end" font-family="Liberation Sans, sans-serif" fill="#000" stroke="#000" stroke-width="0.3" >memory</text>
<text x="93.8" y="336.2" font-size="24.1" text-anchor="end" font-family="Liberation Sans, sans-serif" fill="#000" stroke="#000" stroke-width="0.3" >CD4</text>
<text x="93.8" y="359.9" font-size="24.1" text-anchor="end" font-family="Liberation Sans, sans-serif" fill="#000" stroke="#000" stroke-width="0.3" >T cells</text>
<text x="192.5" y="272.2" font-size="24.1" text-anchor="start" font-family="Liberation Sans, sans-serif" fill="#fff" stroke="#fff" stroke-width="2.6" stroke-linejoin="round" opacity="0.75" >Central</text>
<text x="192.5" y="272.2" font-size="24.1" text-anchor="start" font-family="Liberation Sans, sans-serif" fill="#000" stroke="#000" stroke-width="0.3" >Central</text>
<text x="192.5" y="295.7" font-size="24.1" text-anchor="start" font-family="Liberation Sans, sans-serif" fill="#fff" stroke="#fff" stroke-width="2.6" stroke-linejoin="round" opacity="0.75" >memory</text>
<text x="192.5" y="295.7" font-size="24.1" text-anchor="start" font-family="Liberation Sans, sans-serif" fill="#000" stroke="#000" stroke-width="0.3" >memory</text>
<text x="192.5" y="319.2" font-size="24.1" text-anchor="start" font-family="Liberation Sans, sans-serif" fill="#fff" stroke="#fff" stroke-width="2.6" stroke-linejoin="round" opacity="0.75" >CD4</text>
<text x="192.5" y="319.2" font-size="24.1" text-anchor="start" font-family="Liberation Sans, sans-serif" fill="#000" stroke="#000" stroke-width="0.3" >CD4</text>
<text x="192.5" y="342.7" font-size="24.1" text-anchor="start" font-family="Liberation Sans, sans-serif" fill="#fff" stroke="#fff" stroke-width="2.6" stroke-linejoin="round" opacity="0.75" >T cells</text>
<text x="192.5" y="342.7" font-size="24.1" text-anchor="start" font-family="Liberation Sans, sans-serif" fill="#000" stroke="#000" stroke-width="0.3" >T cells</text>
<text x="307.5" y="435.0" font-size="24.6" text-anchor="middle" font-family="Liberation Sans, sans-serif" fill="#fff" stroke="#fff" stroke-width="2.6" stroke-linejoin="round" opacity="0.75" >B and</text>
<text x="307.5" y="435.0" font-size="24.6" text-anchor="middle" font-family="Liberation Sans, sans-serif" fill="#000" stroke="#000" stroke-width="0.3" >B and</text>
<text x="307.5" y="458.9" font-size="24.6" text-anchor="middle" font-family="Liberation Sans, sans-serif" fill="#fff" stroke="#fff" stroke-width="2.6" stroke-linejoin="round" opacity="0.75" >plasma</text>
<text x="307.5" y="458.9" font-size="24.6" text-anchor="middle" font-family="Liberation Sans, sans-serif" fill="#000" stroke="#000" stroke-width="0.3" >plasma</text>
<text x="307.5" y="482.8" font-size="24.6" text-anchor="middle" font-family="Liberation Sans, sans-serif" fill="#fff" stroke="#fff" stroke-width="2.6" stroke-linejoin="round" opacity="0.75" >cells</text>
<text x="307.5" y="482.8" font-size="24.6" text-anchor="middle" font-family="Liberation Sans, sans-serif" fill="#000" stroke="#000" stroke-width="0.3" >cells</text>
<text x="355.8" y="485.2" font-size="24.1" text-anchor="start" font-family="Liberation Sans, sans-serif" fill="#000" stroke="#000" stroke-width="0.3" >Mast cells</text>
<text x="89.3" y="457.8" font-size="24.2" text-anchor="end" font-family="Liberation Sans, sans-serif" fill="#000" stroke="#000" stroke-width="0.3" >Prolifer-</text>
<text x="89.3" y="481.1" font-size="24.2" text-anchor="end" font-family="Liberation Sans, sans-serif" fill="#000" stroke="#000" stroke-width="0.3" >ating</text>
<text x="89.3" y="504.40000000000003" font-size="24.2" text-anchor="end" font-family="Liberation Sans, sans-serif" fill="#000" stroke="#000" stroke-width="0.3" >T cells</text>
<text x="593.5" y="485" font-size="30.8" text-anchor="start" font-family="Liberation Sans, sans-serif" fill="#000" stroke="#000" stroke-width="0.3" >TRAM-1</text>
<text x="485.8" y="553" font-size="19" text-anchor="end" font-family="Liberation Sans, sans-serif" fill="#000" stroke="#000" stroke-width="0.3" >Proliferating</text>
<text x="485.8" y="569.2" font-size="19" text-anchor="end" font-family="Liberation Sans, sans-serif" fill="#000" stroke="#000" stroke-width="0.3" >macrophages</text>
<text x="111.3" y="548.2" font-size="24.3" text-anchor="end" font-family="Liberation Sans, sans-serif" fill="#000" stroke="#000" stroke-width="0.3" >Effector</text>
<text x="111.3" y="571.9000000000001" font-size="24.3" text-anchor="end" font-family="Liberation Sans, sans-serif" fill="#000" stroke="#000" stroke-width="0.3" >memory</text>
<text x="111.3" y="595.6" font-size="24.3" text-anchor="end" font-family="Liberation Sans, sans-serif" fill="#000" stroke="#000" stroke-width="0.3" >CD8</text>
<text x="111.3" y="619.3000000000001" font-size="24.3" text-anchor="end" font-family="Liberation Sans, sans-serif" fill="#000" stroke="#000" stroke-width="0.3" >T cells</text>
<text x="176.5" y="571.5" font-size="28.2" text-anchor="start" font-family="Liberation Sans, sans-serif" fill="#000" stroke="#000" stroke-width="0.3" >γδ</text>
<text x="177.5" y="600.2" font-size="28.2" text-anchor="start" font-family="Liberation Sans, sans-serif" fill="#000" stroke="#000" stroke-width="0.3" >T cells</text>
<text x="404.5" y="623.8" font-size="18.7" text-anchor="start" font-family="Liberation Sans, sans-serif" fill="#000" stroke="#000" stroke-width="0.3" >KRT13, SPRR3</text>
<text x="404.5" y="639.6" font-size="18.7" text-anchor="start" font-family="Liberation Sans, sans-serif" fill="#000" stroke="#000" stroke-width="0.3" >epithelial cells</text>
<text x="625.5" y="679.2" font-size="32" text-anchor="start" font-family="Liberation Sans, sans-serif" fill="#000" stroke="#000" stroke-width="0.3" >TRAM-4</text>
<text x="821.5" y="650.7" font-size="31.8" text-anchor="start" font-family="Liberation Sans, sans-serif" fill="#000" stroke="#000" stroke-width="0.3" >TRAM-2</text>
<text x="135.5" y="726.9" font-size="32" text-anchor="start" font-family="Liberation Sans, sans-serif" fill="#000" stroke="#000" stroke-width="0.3" >Secretory cells</text>
<text x="470" y="860.2" font-size="32" text-anchor="start" font-family="Liberation Sans, sans-serif" fill="#000" stroke="#000" stroke-width="0.3" >Ciliated cells</text>
<path d="M21.5,935.5 V862 M21.5,935.5 H95" stroke="#111" stroke-width="1.1" fill="none"/>
<path d="M21.5,855.5 L16.6,865.5 L26.4,865.5Z M101,935.5 L91,930.5 L91,940.5Z" fill="#111"/>
<text x="57" y="950" font-size="12.8" text-anchor="middle" font-family="Liberation Sans, sans-serif" fill="#000" stroke="#000" stroke-width="0.3" >UMAP1</text>
<text x="0" y="0" font-size="12.8" text-anchor="middle" font-family="Liberation Sans, sans-serif" fill="#000" transform="translate(13.8,899.5) rotate(-90)">UMAP2</text>
<text x="989.8" y="63.2" font-size="49.5" text-anchor="start" font-family="Liberation Sans, sans-serif" fill="#000" stroke="#000" stroke-width="0.3" >B</text>
<line x1="1060.5" y1="119" x2="1060.5" y2="834.5" stroke="#9a9a9a" stroke-width="1.2" stroke-dasharray="7,5"/>
<path d="M1036,119 V834.5 H1355" fill="none" stroke="#111" stroke-width="1.2"/>
<line x1="1032" y1="155.0" x2="1036" y2="155.0" stroke="#222" stroke-width="1.2"/>
<text x="1027.8" y="161.0" font-size="17" text-anchor="end" font-family="Liberation Sans, sans-serif" fill="#000" stroke="#000" stroke-width="0.3" >MoAM-1</text>
<line x1="1032" y1="226.5" x2="1036" y2="226.5" stroke="#222" stroke-width="1.2"/>
<text x="1027.8" y="232.5" font-size="17" text-anchor="end" font-family="Liberation Sans, sans-serif" fill="#000" stroke="#000" stroke-width="0.3" >MoAM-2</text>
<line x1="1032" y1="298.0" x2="1036" y2="298.0" stroke="#222" stroke-width="1.2"/>
<text x="1027.8" y="304.0" font-size="17" text-anchor="end" font-family="Liberation Sans, sans-serif" fill="#000" stroke="#000" stroke-width="0.3" >MoAM-3</text>
<line x1="1032" y1="369.5" x2="1036" y2="369.5" stroke="#222" stroke-width="1.2"/>
<text x="1027.8" y="375.5" font-size="17" text-anchor="end" font-family="Liberation Sans, sans-serif" fill="#000" stroke="#000" stroke-width="0.3" >MoAM-4</text>
<line x1="1032" y1="441.0" x2="1036" y2="441.0" stroke="#222" stroke-width="1.2"/>
<text x="1027.8" y="447.0" font-size="17" text-anchor="end" font-family="Liberation Sans, sans-serif" fill="#000" stroke="#000" stroke-width="0.3" >MoAM-5</text>
<line x1="1032" y1="512.5" x2="1036" y2="512.5" stroke="#222" stroke-width="1.2"/>
<text x="1027.8" y="518.5" font-size="17" text-anchor="end" font-family="Liberation Sans, sans-serif" fill="#000" stroke="#000" stroke-width="0.3" >MoAM-6</text>
<line x1="1032" y1="584.0" x2="1036" y2="584.0" stroke="#222" stroke-width="1.2"/>
<text x="1027.8" y="590.0" font-size="17" text-anchor="end" font-family="Liberation Sans, sans-serif" fill="#000" stroke="#000" stroke-width="0.3" >TRAM-1</text>
<line x1="1032" y1="655.5" x2="1036" y2="655.5" stroke="#222" stroke-width="1.2"/>
<text x="1027.8" y="661.5" font-size="17" text-anchor="end" font-family="Liberation Sans, sans-serif" fill="#000" stroke="#000" stroke-width="0.3" >TRAM-2</text>
<line x1="1032" y1="727.0" x2="1036" y2="727.0" stroke="#222" stroke-width="1.2"/>
<text x="1027.8" y="733.0" font-size="17" text-anchor="end" font-family="Liberation Sans, sans-serif" fill="#000" stroke="#000" stroke-width="0.3" >TRAM-3</text>
<line x1="1032" y1="798.5" x2="1036" y2="798.5" stroke="#222" stroke-width="1.2"/>
<text x="1027.8" y="804.5" font-size="17" text-anchor="end" font-family="Liberation Sans, sans-serif" fill="#000" stroke="#000" stroke-width="0.3" >TRAM-4</text>
<line x1="1060.5" y1="834.5" x2="1060.5" y2="838.5" stroke="#222" stroke-width="1.2"/>
<text x="1060.5" y="852.8" font-size="14.6" text-anchor="middle" font-family="Liberation Sans, sans-serif" fill="#000" stroke="#000" stroke-width="0.3" >0</text>
<line x1="1134.1" y1="834.5" x2="1134.1" y2="838.5" stroke="#222" stroke-width="1.2"/>
<text x="1134.1" y="852.8" font-size="14.6" text-anchor="middle" font-family="Liberation Sans, sans-serif" fill="#000" stroke="#000" stroke-width="0.3" >15%</text>
<line x1="1207.7" y1="834.5" x2="1207.7" y2="838.5" stroke="#222" stroke-width="1.2"/>
<text x="1207.7" y="852.8" font-size="14.6" text-anchor="middle" font-family="Liberation Sans, sans-serif" fill="#000" stroke="#000" stroke-width="0.3" >30%</text>
<line x1="1281.3" y1="834.5" x2="1281.3" y2="838.5" stroke="#222" stroke-width="1.2"/>
<text x="1281.3" y="852.8" font-size="14.6" text-anchor="middle" font-family="Liberation Sans, sans-serif" fill="#000" stroke="#000" stroke-width="0.3" >45%</text>
<line x1="1354.9" y1="834.5" x2="1354.9" y2="838.5" stroke="#222" stroke-width="1.2"/>
<text x="1354.9" y="852.8" font-size="14.6" text-anchor="middle" font-family="Liberation Sans, sans-serif" fill="#000" stroke="#000" stroke-width="0.3" >60%</text>
<text x="1218.7" y="875.6" font-size="18.7" text-anchor="middle" font-family="Liberation Sans, sans-serif" fill="#000" stroke="#000" stroke-width="0.3" >Proportion of cells in sample</text>
<rect x="1080" y="876.6" width="280" height="20" fill="#fff"/>
<circle cx="1061" cy="126.0" r="1.2" fill="#111"/>
<circle cx="1061" cy="128.6" r="1.2" fill="#111"/>
<circle cx="1061" cy="131.3" r="1.2" fill="#111"/>
<circle cx="1061" cy="133.9" r="1.2" fill="#111"/>
<circle cx="1061" cy="136.5" r="1.2" fill="#111"/>
<circle cx="1061" cy="139.2" r="1.2" fill="#111"/>
<circle cx="1061" cy="141.8" r="1.2" fill="#111"/>
<circle cx="1061" cy="144.5" r="1.2" fill="#111"/>
<circle cx="1061" cy="147.1" r="1.2" fill="#111"/>
<circle cx="1061" cy="149.7" r="1.2" fill="#111"/>
<circle cx="1061" cy="152.4" r="1.2" fill="#111"/>
<circle cx="1061" cy="155.0" r="1.2" fill="#111"/>
<line x1="1059" y1="141.0" x2="1064" y2="141.0" stroke="#111" stroke-width="1"/>
<line x1="1064.5" y1="169.5" x2="1066.2" y2="169.5" stroke="#000" stroke-width="1.35"/>
<line x1="1064.5" y1="164.5" x2="1064.5" y2="174.5" stroke="#000" stroke-width="1.35"/>
<line x1="1077.9" y1="169.5" x2="1078.5" y2="169.5" stroke="#000" stroke-width="1.35"/>
<line x1="1078.5" y1="164.5" x2="1078.5" y2="174.5" stroke="#000" stroke-width="1.35"/>
<rect x="1066.2" y="158.0" width="11.700000000000045" height="23" fill="#f50000" stroke="#000" stroke-width="1"/>
<line x1="1071" y1="158.0" x2="1071" y2="181.0" stroke="#000" stroke-width="1.35"/>
<circle cx="1106.8" cy="169.5" r="1.5" fill="#111"/>
<circle cx="1133" cy="169.5" r="1.5" fill="#111"/>
<path d="M1152,140 H1158 V169 H1152" fill="none" stroke="#222" stroke-width="1.2"/>
<text x="0" y="0" font-size="10.4" text-anchor="middle" font-family="Liberation Sans, sans-serif" fill="#000" transform="translate(1161.8,154.5) rotate(90)">q=3.5e-04</text>
<line x1="1065.4" y1="212.0" x2="1069.8" y2="212.0" stroke="#000" stroke-width="1.35"/>
<line x1="1069.8" y1="207.0" x2="1069.8" y2="217.0" stroke="#000" stroke-width="1.35"/>
<rect x="1061" y="200.5" width="4.400000000000091" height="23" fill="#10108a" stroke="#000" stroke-width="1"/>
<line x1="1063" y1="200.5" x2="1063" y2="223.5" stroke="#000" stroke-width="1.35"/>
<line x1="1070.8" y1="241.0" x2="1075.4" y2="241.0" stroke="#000" stroke-width="1.35"/>
<line x1="1070.8" y1="236.0" x2="1070.8" y2="246.0" stroke="#000" stroke-width="1.35"/>
<line x1="1082" y1="241.0" x2="1084.4" y2="241.0" stroke="#000" stroke-width="1.35"/>
<line x1="1084.4" y1="236.0" x2="1084.4" y2="246.0" stroke="#000" stroke-width="1.35"/>
<rect x="1075.4" y="229.5" width="6.599999999999909" height="23" fill="#f50000" stroke="#000" stroke-width="1"/>
<line x1="1079" y1="229.5" x2="1079" y2="252.5" stroke="#000" stroke-width="1.35"/>
<circle cx="1092.8" cy="241.0" r="1.5" fill="#111"/>
<path d="M1112.3,211.8 H1118.3 V240.7 H1112.3" fill="none" stroke="#222" stroke-width="1.2"/>
<text x="0" y="0" font-size="10.4" text-anchor="middle" font-family="Liberation Sans, sans-serif" fill="#000" transform="translate(1122.1,226.25) rotate(90)">q=1.7e-04</text>
<rect x="1062.2" y="272.0" width="3.3999999999998636" height="23" fill="#10108a" stroke="#000" stroke-width="1"/>
<line x1="1064" y1="272.0" x2="1064" y2="295.0" stroke="#000" stroke-width="1.35"/>
<circle cx="1069.5" cy="283.5" r="1.3" fill="#111"/>
<circle cx="1072" cy="283.5" r="1.3" fill="#111"/>
<circle cx="1074.5" cy="283.5" r="1.3" fill="#111"/>
<line x1="1070.6" y1="312.5" x2="1080.9" y2="312.5" stroke="#000" stroke-width="1.35"/>
<line x1="1070.6" y1="307.5" x2="1070.6" y2="317.5" stroke="#000" stroke-width="1.35"/>
<line x1="1110.1" y1="312.5" x2="1145.9" y2="312.5" stroke="#000" stroke-width="1.35"/>
<line x1="1145.9" y1="307.5" x2="1145.9" y2="317.5" stroke="#000" stroke-width="1.35"/>
<rect x="1080.9" y="301.0" width="29.199999999999818" height="23" fill="#f50000" stroke="#000" stroke-width="1"/>
<line x1="1089.6" y1="301.0" x2="1089.6" y2="324.0" stroke="#000" stroke-width="1.35"/>
<circle cx="1076" cy="312.5" r="1.1" fill="#222"/>
<circle cx="1086" cy="312.5" r="1.1" fill="#222"/>
<circle cx="1098" cy="312.5" r="1.1" fill="#222"/>
<path d="M1164.5,283.4 H1170.5 V311.8 H1164.5" fill="none" stroke="#222" stroke-width="1.2"/>
<text x="0" y="0" font-size="10.4" text-anchor="middle" font-family="Liberation Sans, sans-serif" fill="#000" transform="translate(1174.3,297.6) rotate(90)">q=1.7e-04</text>
<circle cx="1061.4" cy="340.0" r="1.2" fill="#111"/>
<circle cx="1061.4" cy="342.6" r="1.2" fill="#111"/>
<circle cx="1061.4" cy="345.3" r="1.2" fill="#111"/>
<circle cx="1061.4" cy="347.9" r="1.2" fill="#111"/>
<circle cx="1061.4" cy="350.5" r="1.2" fill="#111"/>
<circle cx="1061.4" cy="353.2" r="1.2" fill="#111"/>
<circle cx="1061.4" cy="355.8" r="1.2" fill="#111"/>
<circle cx="1061.4" cy="358.5" r="1.2" fill="#111"/>
<circle cx="1061.4" cy="361.1" r="1.2" fill="#111"/>
<circle cx="1061.4" cy="363.7" r="1.2" fill="#111"/>
<circle cx="1061.4" cy="366.4" r="1.2" fill="#111"/>
<circle cx="1061.4" cy="369.0" r="1.2" fill="#111"/>
<rect x="1062.2" y="372.5" width="4.7999999999999545" height="23" fill="#f50000" stroke="#000" stroke-width="1"/>
<line x1="1064" y1="372.5" x2="1064" y2="395.5" stroke="#000" stroke-width="1.35"/>
<circle cx="1088" cy="384.0" r="1.5" fill="#111"/>
<path d="M1108,354.7 H1114 V384 H1108" fill="none" stroke="#222" stroke-width="1.2"/>
<text x="0" y="0" font-size="10.4" text-anchor="middle" font-family="Liberation Sans, sans-serif" fill="#000" transform="translate(1117.8,369.35) rotate(90)">q=6.7e-04</text>
<circle cx="1063" cy="413.0" r="1.2" fill="#111"/>
<circle cx="1063" cy="415.5" r="1.2" fill="#111"/>
<circle cx="1063" cy="417.9" r="1.2" fill="#111"/>
<circle cx="1063" cy="420.4" r="1.2" fill="#111"/>
<circle cx="1063" cy="422.8" r="1.2" fill="#111"/>
<circle cx="1063" cy="425.3" r="1.2" fill="#111"/>
<circle cx="1063" cy="427.7" r="1.2" fill="#111"/>
<circle cx="1063" cy="430.2" r="1.2" fill="#111"/>
<circle cx="1063" cy="432.6" r="1.2" fill="#111"/>
<circle cx="1063" cy="435.1" r="1.2" fill="#111"/>
<circle cx="1063" cy="437.5" r="1.2" fill="#111"/>
<circle cx="1063" cy="440.0" r="1.2" fill="#111"/>
<circle cx="1073" cy="426" r="1.4" fill="#111"/>
<line x1="1067.5" y1="455.5" x2="1071.2" y2="455.5" stroke="#000" stroke-width="1.35"/>
<line x1="1067.5" y1="450.5" x2="1067.5" y2="460.5" stroke="#000" stroke-width="1.35"/>
<line x1="1092.8" y1="455.5" x2="1107.2" y2="455.5" stroke="#000" stroke-width="1.35"/>
<line x1="1107.2" y1="450.5" x2="1107.2" y2="460.5" stroke="#000" stroke-width="1.35"/>
<rect x="1071.2" y="444.0" width="21.59999999999991" height="23" fill="#f50000" stroke="#000" stroke-width="1"/>
<line x1="1087" y1="444.0" x2="1087" y2="467.0" stroke="#000" stroke-width="1.35"/>
<circle cx="1127.7" cy="455.5" r="1.5" fill="#111"/>
<circle cx="1077" cy="455.5" r="1.1" fill="#222"/>
<path d="M1146.8,426.4 H1152.8 V455 H1146.8" fill="none" stroke="#222" stroke-width="1.2"/>
<text x="0" y="0" font-size="10.4" text-anchor="middle" font-family="Liberation Sans, sans-serif" fill="#000" transform="translate(1156.6,440.7) rotate(90)">q=1.5e-03</text>
<circle cx="1061.4" cy="483.6" r="1.2" fill="#111"/>
<circle cx="1061.4" cy="486.2" r="1.2" fill="#111"/>
<circle cx="1061.4" cy="488.7" r="1.2" fill="#111"/>
<circle cx="1061.4" cy="491.3" r="1.2" fill="#111"/>
<circle cx="1061.4" cy="493.9" r="1.2" fill="#111"/>
<circle cx="1061.4" cy="496.4" r="1.2" fill="#111"/>
<circle cx="1061.4" cy="499.0" r="1.2" fill="#111"/>
<circle cx="1061.4" cy="501.5" r="1.2" fill="#111"/>
<circle cx="1061.4" cy="504.1" r="1.2" fill="#111"/>
<circle cx="1061.4" cy="506.7" r="1.2" fill="#111"/>
<circle cx="1061.4" cy="509.2" r="1.2" fill="#111"/>
<circle cx="1061.4" cy="511.8" r="1.2" fill="#111"/>
<circle cx="1065" cy="497.8" r="1.4" fill="#111"/>
<line x1="1067" y1="527.0" x2="1070.8" y2="527.0" stroke="#000" stroke-width="1.35"/>
<line x1="1070.8" y1="522.0" x2="1070.8" y2="532.0" stroke="#000" stroke-width="1.35"/>
<rect x="1061.4" y="515.5" width="5.599999999999909" height="23" fill="#d00010" stroke="#000" stroke-width="1"/>
<line x1="1063.5" y1="515.5" x2="1063.5" y2="538.5" stroke="#000" stroke-width="1.35"/>
<circle cx="1085.9" cy="527.0" r="1.5" fill="#111"/>
<path d="M1105,497.8 H1111 V526.4 H1105" fill="none" stroke="#222" stroke-width="1.2"/>
<text x="0" y="0" font-size="10.4" text-anchor="middle" font-family="Liberation Sans, sans-serif" fill="#000" transform="translate(1114.8,512.1) rotate(90)">q=1.3e-02</text>
<line x1="1071.7" y1="569.5" x2="1095.3" y2="569.5" stroke="#000" stroke-width="1.35"/>
<line x1="1071.7" y1="564.5" x2="1071.7" y2="574.5" stroke="#000" stroke-width="1.35"/>
<line x1="1179.5" y1="569.5" x2="1264.7" y2="569.5" stroke="#000" stroke-width="1.35"/>
<line x1="1264.7" y1="564.5" x2="1264.7" y2="574.5" stroke="#000" stroke-width="1.35"/>
<rect x="1095.3" y="558.0" width="84.20000000000005" height="23" fill="#0000f5" stroke="#000" stroke-width="1"/>
<line x1="1134" y1="558.0" x2="1134" y2="581.0" stroke="#000" stroke-width="1.35"/>
<circle cx="1077" cy="569.5" r="1.1" fill="#222"/>
<circle cx="1085" cy="569.5" r="1.1" fill="#222"/>
<circle cx="1114" cy="569.5" r="1.1" fill="#222"/>
<circle cx="1149" cy="569.5" r="1.1" fill="#222"/>
<circle cx="1154" cy="569.5" r="1.1" fill="#222"/>
<circle cx="1175" cy="569.5" r="1.1" fill="#222"/>
<circle cx="1184" cy="569.5" r="1.1" fill="#222"/>
<circle cx="1207" cy="569.5" r="1.1" fill="#222"/>
<circle cx="1241" cy="569.5" r="1.1" fill="#222"/>
<line x1="1119.3" y1="598.5" x2="1134.8" y2="598.5" stroke="#000" stroke-width="1.35"/>
<line x1="1119.3" y1="593.5" x2="1119.3" y2="603.5" stroke="#000" stroke-width="1.35"/>
<line x1="1177" y1="598.5" x2="1206" y2="598.5" stroke="#000" stroke-width="1.35"/>
<line x1="1206" y1="593.5" x2="1206" y2="603.5" stroke="#000" stroke-width="1.35"/>
<rect x="1134.8" y="587.0" width="42.200000000000045" height="23" fill="#f50000" stroke="#000" stroke-width="1"/>
<line x1="1152.8" y1="587.0" x2="1152.8" y2="610.0" stroke="#000" stroke-width="1.35"/>
<circle cx="1068.3" cy="598.5" r="1.5" fill="#111"/>
<circle cx="1170" cy="598.5" r="1.1" fill="#222"/>
<circle cx="1183" cy="598.5" r="1.1" fill="#222"/>
<line x1="1090" y1="641.0" x2="1115.7" y2="641.0" stroke="#000" stroke-width="1.35"/>
<line x1="1090" y1="636.0" x2="1090" y2="646.0" stroke="#000" stroke-width="1.35"/>
<line x1="1229.2" y1="641.0" x2="1300.7" y2="641.0" stroke="#000" stroke-width="1.35"/>
<line x1="1300.7" y1="636.0" x2="1300.7" y2="646.0" stroke="#000" stroke-width="1.35"/>
<rect x="1115.7" y="629.5" width="113.5" height="23" fill="#0000f5" stroke="#000" stroke-width="1"/>
<line x1="1147" y1="629.5" x2="1147" y2="652.5" stroke="#000" stroke-width="1.35"/>
<circle cx="1097" cy="641.0" r="1.1" fill="#222"/>
<circle cx="1116" cy="641.0" r="1.1" fill="#222"/>
<circle cx="1166" cy="641.0" r="1.1" fill="#222"/>
<circle cx="1202" cy="641.0" r="1.1" fill="#222"/>
<circle cx="1219" cy="641.0" r="1.1" fill="#222"/>
<circle cx="1236" cy="641.0" r="1.1" fill="#222"/>
<circle cx="1257" cy="641.0" r="1.1" fill="#222"/>
<circle cx="1274" cy="641.0" r="1.1" fill="#222"/>
<line x1="1071.3" y1="670.0" x2="1078.6" y2="670.0" stroke="#000" stroke-width="1.35"/>
<line x1="1071.3" y1="665.0" x2="1071.3" y2="675.0" stroke="#000" stroke-width="1.35"/>
<line x1="1096.3" y1="670.0" x2="1119.6" y2="670.0" stroke="#000" stroke-width="1.35"/>
<line x1="1119.6" y1="665.0" x2="1119.6" y2="675.0" stroke="#000" stroke-width="1.35"/>
<rect x="1078.6" y="658.5" width="17.700000000000045" height="23" fill="#f50000" stroke="#000" stroke-width="1"/>
<line x1="1087.5" y1="658.5" x2="1087.5" y2="681.5" stroke="#000" stroke-width="1.35"/>
<circle cx="1145.2" cy="670.0" r="1.5" fill="#111"/>
<circle cx="1087" cy="670.0" r="1.1" fill="#222"/>
<path d="M1319.3,641.4 H1325.3 V669.6 H1319.3" fill="none" stroke="#222" stroke-width="1.2"/>
<text x="0" y="0" font-size="10.4" text-anchor="middle" font-family="Liberation Sans, sans-serif" fill="#000" transform="translate(1329.1,655.5) rotate(90)">q=6.7e-04</text>
<line x1="1077.1" y1="712.5" x2="1101.4" y2="712.5" stroke="#000" stroke-width="1.35"/>
<line x1="1077.1" y1="707.5" x2="1077.1" y2="717.5" stroke="#000" stroke-width="1.35"/>
<line x1="1131.9" y1="712.5" x2="1150.2" y2="712.5" stroke="#000" stroke-width="1.35"/>
<line x1="1150.2" y1="707.5" x2="1150.2" y2="717.5" stroke="#000" stroke-width="1.35"/>
<rect x="1101.4" y="701.0" width="30.5" height="23" fill="#0000f5" stroke="#000" stroke-width="1"/>
<line x1="1116.2" y1="701.0" x2="1116.2" y2="724.0" stroke="#000" stroke-width="1.35"/>
<circle cx="1087" cy="712.5" r="1.1" fill="#222"/>
<circle cx="1096" cy="712.5" r="1.1" fill="#222"/>
<circle cx="1116" cy="712.5" r="1.1" fill="#222"/>
<circle cx="1127" cy="712.5" r="1.1" fill="#222"/>
<circle cx="1139" cy="712.5" r="1.1" fill="#222"/>
<line x1="1165.2" y1="741.5" x2="1203.8" y2="741.5" stroke="#000" stroke-width="1.35"/>
<line x1="1203.8" y1="736.5" x2="1203.8" y2="746.5" stroke="#000" stroke-width="1.35"/>
<rect x="1138.3" y="730.0" width="26.90000000000009" height="23" fill="#f50000" stroke="#000" stroke-width="1"/>
<line x1="1155.5" y1="730.0" x2="1155.5" y2="753.0" stroke="#000" stroke-width="1.35"/>
<circle cx="1090.7" cy="741.5" r="1.5" fill="#111"/>
<circle cx="1140" cy="741.5" r="1.1" fill="#222"/>
<circle cx="1156" cy="741.5" r="1.1" fill="#222"/>
<circle cx="1176" cy="741.5" r="1.1" fill="#222"/>
<path d="M1222.3,712 H1228.3 V741.2 H1222.3" fill="none" stroke="#222" stroke-width="1.2"/>
<text x="0" y="0" font-size="10.4" text-anchor="middle" font-family="Liberation Sans, sans-serif" fill="#000" transform="translate(1232.1,726.6) rotate(90)">q=1.6e-04</text>
<line x1="1096.2" y1="784.0" x2="1158" y2="784.0" stroke="#000" stroke-width="1.35"/>
<line x1="1096.2" y1="779.0" x2="1096.2" y2="789.0" stroke="#000" stroke-width="1.35"/>
<line x1="1218.8" y1="784.0" x2="1291.9" y2="784.0" stroke="#000" stroke-width="1.35"/>
<line x1="1291.9" y1="779.0" x2="1291.9" y2="789.0" stroke="#000" stroke-width="1.35"/>
<rect x="1158" y="772.5" width="60.799999999999955" height="23" fill="#0000f5" stroke="#000" stroke-width="1"/>
<line x1="1201" y1="772.5" x2="1201" y2="795.5" stroke="#000" stroke-width="1.35"/>
<circle cx="1139" cy="784.0" r="1.1" fill="#222"/>
<circle cx="1147" cy="784.0" r="1.1" fill="#222"/>
<circle cx="1180" cy="784.0" r="1.1" fill="#222"/>
<circle cx="1205" cy="784.0" r="1.1" fill="#222"/>
<circle cx="1211" cy="784.0" r="1.1" fill="#222"/>
<circle cx="1220" cy="784.0" r="1.1" fill="#222"/>
<circle cx="1248" cy="784.0" r="1.1" fill="#222"/>
<circle cx="1264" cy="784.0" r="1.1" fill="#222"/>
<line x1="1077" y1="813.0" x2="1092.6" y2="813.0" stroke="#000" stroke-width="1.35"/>
<line x1="1077" y1="808.0" x2="1077" y2="818.0" stroke="#000" stroke-width="1.35"/>
<rect x="1092.6" y="801.5" width="19.100000000000136" height="23" fill="#f50000" stroke="#000" stroke-width="1"/>
<line x1="1106.2" y1="801.5" x2="1106.2" y2="824.5" stroke="#000" stroke-width="1.35"/>
<circle cx="1147" cy="813.0" r="1.5" fill="#111"/>
<circle cx="1168.6" cy="813.0" r="1.5" fill="#111"/>
<circle cx="1088" cy="813.0" r="1.1" fill="#222"/>
<circle cx="1099" cy="813.0" r="1.1" fill="#222"/>
<path d="M1309.2,784 H1315.2 V812.6 H1309.2" fill="none" stroke="#222" stroke-width="1.2"/>
<text x="0" y="0" font-size="10.4" text-anchor="middle" font-family="Liberation Sans, sans-serif" fill="#000" transform="translate(1319.0,798.3) rotate(90)">q=1.6e-04</text>
<text x="1284" y="142" font-size="24.2" text-anchor="start" font-family="Liberation Sans, sans-serif" fill="#000" stroke="#000" stroke-width="0.3" >Sample</text>
<rect x="1261" y="166.4" width="30" height="10.5" fill="#0000f5"/>
<rect x="1261" y="231.3" width="30" height="10.5" fill="#f50000"/>
<text x="1303" y="176.9" font-size="23.9" text-anchor="start" font-family="Liberation Sans, sans-serif" fill="#000" stroke="#000" stroke-width="0.3" >Healthy</text>
<text x="1302.5" y="205.2" font-size="24.3" text-anchor="start" font-family="Liberation Sans, sans-serif" fill="#000" stroke="#000" stroke-width="0.3" >Volunteer</text>
<text x="1303" y="241.7" font-size="23.9" text-anchor="start" font-family="Liberation Sans, sans-serif" fill="#000" stroke="#000" stroke-width="0.3" >SSc-ILD</text>
</svg></body></html>
